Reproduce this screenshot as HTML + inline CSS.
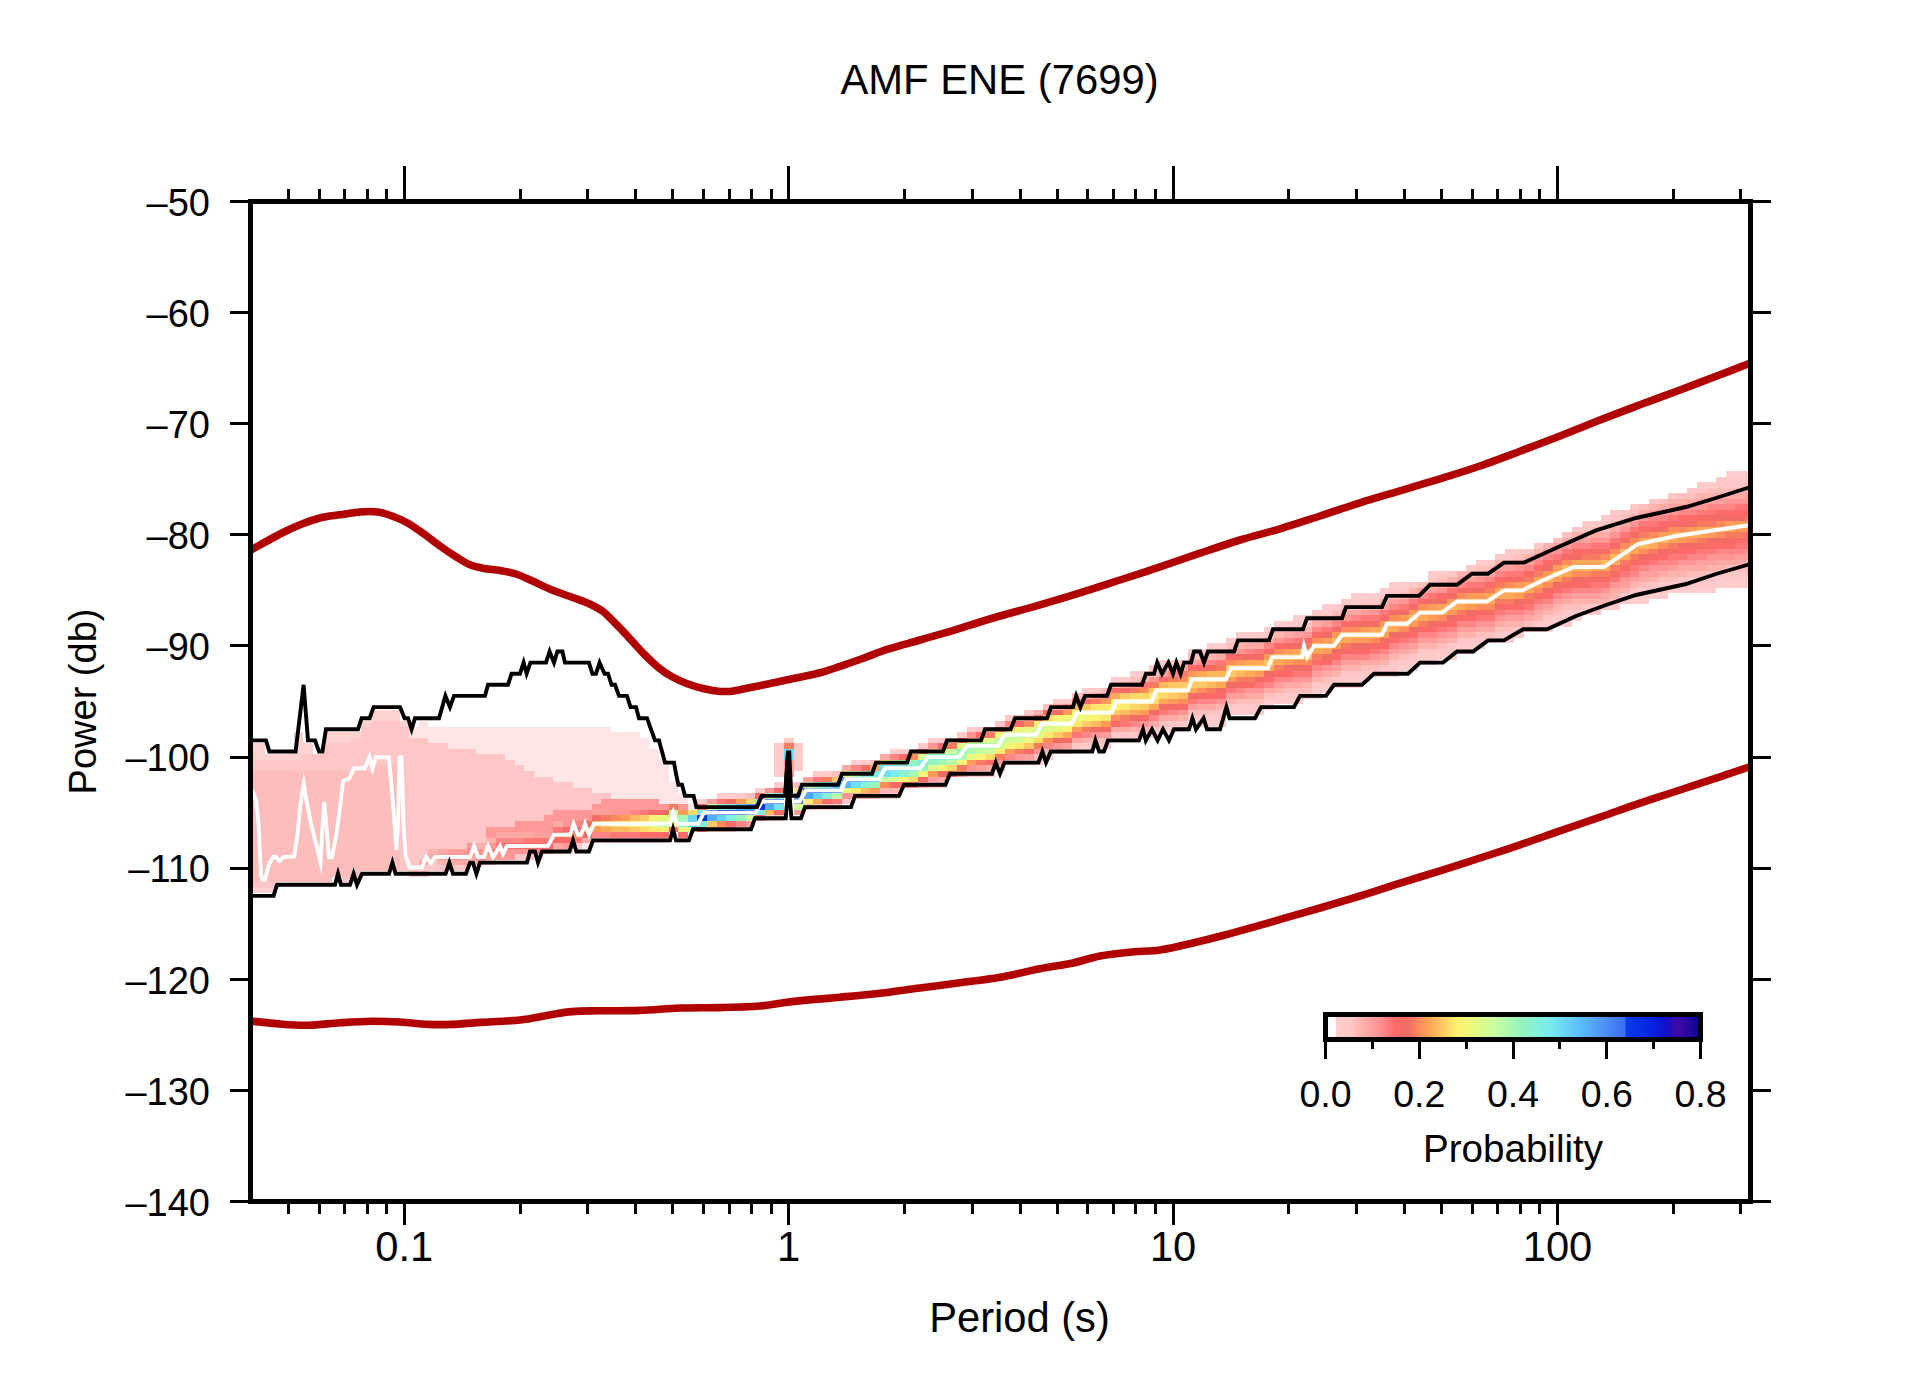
<!DOCTYPE html>
<html lang="en"><head><meta charset="utf-8"><title>AMF ENE (7699)</title>
<style>html,body{margin:0;padding:0;background:#fff;}body{width:1910px;height:1389px;overflow:hidden;}svg{display:block;}text{font-family:'Liberation Sans', sans-serif;fill:#000;}</style></head><body>
<svg width="1910" height="1389" viewBox="0 0 1910 1389">
<rect x="0" y="0" width="1910" height="1389" fill="#fff"/>
<defs><clipPath id="pc"><rect x="250.5" y="201.5" width="1500" height="1000"/></clipPath>
<linearGradient id="cb" x1="0" y1="0" x2="1" y2="0">
<stop offset="0.0" stop-color="#ffffff"/>
<stop offset="0.026" stop-color="#ffffff"/>
<stop offset="0.028" stop-color="#ffcece"/>
<stop offset="0.069" stop-color="#ffc6c6"/>
<stop offset="0.095" stop-color="#ffb2ac"/>
<stop offset="0.14" stop-color="#ff9696"/>
<stop offset="0.185" stop-color="#ff6a6a"/>
<stop offset="0.22" stop-color="#f06c64"/>
<stop offset="0.25" stop-color="#ff8c5a"/>
<stop offset="0.28" stop-color="#ffa858"/>
<stop offset="0.31" stop-color="#ffc664"/>
<stop offset="0.35" stop-color="#fff06e"/>
<stop offset="0.4" stop-color="#e4fa82"/>
<stop offset="0.45" stop-color="#c8ffa0"/>
<stop offset="0.52" stop-color="#96f5bc"/>
<stop offset="0.6" stop-color="#78ebf0"/>
<stop offset="0.68" stop-color="#5abefa"/>
<stop offset="0.765" stop-color="#4682f5"/>
<stop offset="0.799" stop-color="#3c6ef5"/>
<stop offset="0.801" stop-color="#0a3ceb"/>
<stop offset="0.87" stop-color="#0523e1"/>
<stop offset="0.91" stop-color="#140fc8"/>
<stop offset="0.94" stop-color="#410aa5"/>
<stop offset="0.967" stop-color="#2808a0"/>
<stop offset="1.0" stop-color="#050596"/>
</linearGradient></defs>
<g clip-path="url(#pc)" shape-rendering="crispEdges">
<path fill="#072de5" d="M755.1 804.3H764.7V809.8H755.1zM774.3 798.7H783.9V804.3H774.3z"/>
<path fill="#0832e7" d="M697.4 815.4H707V820.9H697.4zM716.6 809.8H726.2V815.4H716.6zM726.2 809.8H735.8V815.4H726.2zM735.8 809.8H745.5V815.4H735.8zM764.7 798.7H774.3V804.3H764.7z"/>
<path fill="#3d6ff5" d="M707 809.8H716.6V815.4H707zM745.5 809.8H755.1V815.4H745.5zM793.5 798.7H803.1V804.3H793.5zM812.7 787.6H822.3V793.2H812.7z"/>
<path fill="#4178f5" d="M803.1 787.6H812.7V793.2H803.1zM822.3 787.6H831.9V793.2H822.3z"/>
<path fill="#4a8df6" d="M831.9 787.6H841.6V793.2H831.9z"/>
<path fill="#4d98f7" d="M793.5 793.2H803.1V798.7H793.5zM851.2 776.5H860.8V782.1H851.2z"/>
<path fill="#51a3f8" d="M745.5 804.3H755.1V809.8H745.5zM803.1 793.2H812.7V798.7H803.1zM841.6 776.5H851.2V782.1H841.6z"/>
<path fill="#55aef9" d="M707 815.4H716.6V820.9H707zM764.7 804.3H774.3V809.8H764.7zM860.8 776.5H870.4V782.1H860.8z"/>
<path fill="#58b9fa" d="M841.6 782.1H851.2V787.6H841.6z"/>
<path fill="#5dc3f9" d="M687.8 820.9H697.4V826.5H687.8zM735.8 804.3H745.5V809.8H735.8zM831.9 782.1H841.6V787.6H831.9zM870.4 776.5H880V782.1H870.4z"/>
<path fill="#69d4f5" d="M687.8 815.4H697.4V820.9H687.8zM716.6 815.4H726.2V820.9H716.6zM812.7 793.2H822.3V798.7H812.7z"/>
<path fill="#6fddf3" d="M851.2 782.1H860.8V787.6H851.2zM880 765.4H889.6V776.5H880zM889.6 765.4H899.2V770.9H889.6zM899.2 765.4H908.8V770.9H899.2zM783.9 748.7H793.5V759.8H783.9z"/>
<path fill="#74e6f1" d="M755.1 798.7H764.7V804.3H755.1zM774.3 804.3H783.9V809.8H774.3z"/>
<path fill="#7aecec" d="M697.4 809.8H707V815.4H697.4zM726.2 804.3H735.8V809.8H726.2zM822.3 782.1H831.9V787.6H822.3zM870.4 770.9H880V776.5H870.4zM889.6 770.9H899.2V776.5H889.6zM908.8 765.4H918.4V770.9H908.8zM918.4 759.8H928V765.4H918.4z"/>
<path fill="#80eee2" d="M697.4 820.9H707V826.5H697.4zM726.2 815.4H735.8V820.9H726.2zM755.1 809.8H764.7V815.4H755.1zM774.3 793.2H783.9V798.7H774.3z"/>
<path fill="#86f0d8" d="M678.2 820.9H687.8V826.5H678.2zM822.3 793.2H831.9V798.7H822.3zM860.8 782.1H870.4V787.6H860.8zM928 754.3H937.7V759.8H928z"/>
<path fill="#8cf2cd" d="M860.8 770.9H870.4V776.5H860.8zM899.2 770.9H908.8V776.5H899.2zM937.7 754.3H947.3V759.8H937.7z"/>
<path fill="#92f4c3" d="M716.6 804.3H726.2V809.8H716.6zM918.4 765.4H928V770.9H918.4zM928 759.8H937.7V765.4H928zM947.3 754.3H956.9V759.8H947.3z"/>
<path fill="#99f6ba" d="M735.8 815.4H745.5V820.9H735.8zM812.7 782.1H822.3V787.6H812.7zM870.4 782.1H880V787.6H870.4zM908.8 759.8H918.4V765.4H908.8zM956.9 748.7H966.5V754.3H956.9z"/>
<path fill="#a4f8b4" d="M668.6 815.4H678.2V820.9H668.6zM678.2 815.4H687.8V820.9H678.2zM908.8 770.9H918.4V776.5H908.8zM937.7 759.8H947.3V765.4H937.7zM966.5 743.2H976.1V748.7H966.5zM976.1 743.2H985.7V748.7H976.1z"/>
<path fill="#affaae" d="M764.7 793.2H774.3V798.7H764.7zM956.9 754.3H966.5V759.8H956.9zM966.5 748.7H976.1V754.3H966.5zM985.7 743.2H995.3V748.7H985.7z"/>
<path fill="#bbfca8" d="M659 820.9H668.6V826.5H659zM831.9 793.2H841.6V798.7H831.9zM851.2 770.9H860.8V776.5H851.2zM899.2 759.8H908.8V765.4H899.2zM947.3 759.8H956.9V765.4H947.3zM995.3 737.6H1004.9V743.2H995.3z"/>
<path fill="#c6ffa1" d="M707 804.3H716.6V809.8H707zM880 776.5H889.6V782.1H880zM947.3 748.7H956.9V754.3H947.3zM976.1 748.7H985.7V754.3H976.1zM1004.9 732.1H1014.5V737.6H1004.9zM1014.5 732.1H1024.1V737.6H1014.5z"/>
<path fill="#cffe98" d="M668.6 809.8H678.2V815.4H668.6zM745.5 815.4H755.1V820.9H745.5zM793.5 804.3H803.1V809.8H793.5zM803.1 782.1H812.7V787.6H803.1zM918.4 754.3H928V759.8H918.4zM985.7 748.7H995.3V754.3H985.7zM995.3 743.2H1004.9V748.7H995.3zM1004.9 737.6H1014.5V743.2H1004.9zM1024.1 732.1H1033.8V737.6H1024.1zM1033.8 726.5H1043.4V732.1H1033.8z"/>
<path fill="#d8fc8f" d="M649.4 820.9H659V826.5H649.4zM889.6 759.8H899.2V765.4H889.6zM889.6 776.5H899.2V782.1H889.6zM928 765.4H937.7V770.9H928zM937.7 748.7H947.3V754.3H937.7zM985.7 737.6H995.3V743.2H985.7zM1014.5 737.6H1024.1V743.2H1014.5zM1043.4 720.9H1053V726.5H1043.4zM1053 720.9H1062.6V726.5H1053z"/>
<path fill="#e0fb86" d="M687.8 826.5H697.4V832.1H687.8zM956.9 743.2H966.5V748.7H956.9zM1033.8 732.1H1043.4V737.6H1033.8zM1043.4 726.5H1053V732.1H1043.4zM1062.6 720.9H1072.2V726.5H1062.6z"/>
<path fill="#e9f87e" d="M639.7 820.9H649.4V826.5H639.7zM659 815.4H668.6V820.9H659zM678.2 826.5H687.8V832.1H678.2zM841.6 770.9H851.2V776.5H841.6zM841.6 787.6H851.2V793.2H841.6zM966.5 754.3H976.1V759.8H966.5zM976.1 737.6H985.7V743.2H976.1zM1024.1 726.5H1033.8V732.1H1024.1zM1024.1 737.6H1033.8V743.2H1024.1zM1053 726.5H1062.6V732.1H1053zM1072.2 709.8H1081.8V720.9H1072.2zM1081.8 709.8H1091.4V715.4H1081.8z"/>
<path fill="#f16c64" d="M553.3 832.1H562.9V837.6H553.3zM572.5 826.5H582.1V832.1H572.5zM582.1 820.9H591.7V826.5H582.1zM582.1 832.1H591.7V837.6H582.1zM591.7 815.4H601.3V820.9H591.7zM659 809.8H668.6V815.4H659zM697.4 804.3H707V809.8H697.4zM726.2 798.7H735.8V804.3H726.2zM755.1 793.2H764.7V798.7H755.1zM774.3 809.8H783.9V815.4H774.3zM822.3 798.7H831.9V804.3H822.3zM860.8 765.4H870.4V770.9H860.8zM889.6 782.1H899.2V787.6H889.6zM918.4 776.5H928V782.1H918.4zM937.7 770.9H947.3V776.5H937.7zM1033.8 715.4H1043.4V720.9H1033.8zM1053 709.8H1062.6V715.4H1053zM1053 737.6H1062.6V743.2H1053zM1091.4 726.5H1101V732.1H1091.4zM1129.9 715.4H1139.5V720.9H1129.9zM1149.1 709.8H1158.7V715.4H1149.1zM1158.7 704.3H1168.3V709.8H1158.7zM1187.5 693.2H1197.1V698.7H1187.5zM1206.7 665.4H1216.3V670.9H1206.7zM1216.3 687.6H1226V693.2H1216.3zM1226 682.1H1235.6V687.6H1226zM1254.8 654.3H1264.4V659.8H1254.8zM1254.8 676.5H1264.4V682.1H1254.8zM1264.4 670.9H1274V676.5H1264.4zM1283.6 665.4H1293.2V670.9H1283.6zM1293.2 643.2H1302.8V648.7H1293.2zM1293.2 665.4H1302.8V670.9H1293.2zM1322.1 632.1H1331.7V637.6H1322.1zM1322.1 654.3H1331.7V659.8H1322.1zM1331.7 648.7H1341.3V654.3H1331.7zM1350.9 643.2H1360.5V648.7H1350.9zM1360.5 620.9H1370.1V626.5H1360.5zM1360.5 643.2H1370.1V648.7H1360.5zM1370.1 620.9H1379.7V626.5H1370.1zM1379.7 637.6H1389.3V643.2H1379.7zM1389.3 632.1H1398.9V637.6H1389.3zM1398.9 609.8H1408.5V615.4H1398.9zM1398.9 632.1H1408.5V637.6H1398.9zM1408.5 626.5H1418.2V632.1H1408.5zM1427.8 598.7H1437.4V604.3H1427.8zM1427.8 620.9H1437.4V626.5H1427.8zM1437.4 598.7H1447V604.3H1437.4zM1447 593.2H1456.6V598.7H1447zM1447 615.4H1456.6V620.9H1447zM1466.2 609.8H1475.8V615.4H1466.2zM1475.8 587.6H1485.4V593.2H1475.8zM1514.3 598.7H1523.9V604.3H1514.3zM1543.1 565.4H1552.7V570.9H1543.1zM1543.1 587.6H1552.7V593.2H1543.1zM1552.7 559.8H1562.3V565.4H1552.7zM1552.7 582.1H1562.3V587.6H1552.7zM1571.9 554.3H1581.5V559.8H1571.9zM1571.9 576.5H1581.5V582.1H1571.9zM1639.2 554.3H1648.8V559.8H1639.2zM1658.4 526.5H1668V532.1H1658.4zM1658.4 548.7H1668V554.3H1658.4zM1677.6 520.9H1687.2V526.5H1677.6zM1677.6 543.2H1687.2V548.7H1677.6zM1687.2 520.9H1696.8V526.5H1687.2zM1706.5 537.6H1716.1V543.2H1706.5zM1716.1 537.6H1725.7V543.2H1716.1zM1725.7 515.4H1735.3V520.9H1725.7zM1735.3 515.4H1744.9V520.9H1735.3zM1744.9 532.1H1754.5V537.6H1744.9z"/>
<path fill="#f1f578" d="M668.6 820.9H678.2V826.5H668.6zM899.2 776.5H908.8V782.1H899.2zM918.4 770.9H928V776.5H918.4zM937.7 765.4H947.3V770.9H937.7zM995.3 732.1H1004.9V737.6H995.3zM1004.9 743.2H1014.5V748.7H1004.9zM1014.5 726.5H1024.1V732.1H1014.5zM1062.6 715.4H1072.2V720.9H1062.6zM1081.8 715.4H1091.4V720.9H1081.8zM1091.4 709.8H1101V715.4H1091.4zM1101 709.8H1110.6V715.4H1101z"/>
<path fill="#f76b67" d="M543.6 843.2H553.3V848.7H543.6zM562.9 826.5H572.5V832.1H562.9zM697.4 826.5H707V832.1H697.4zM726.2 820.9H735.8V826.5H726.2zM755.1 815.4H764.7V820.9H755.1zM774.3 787.6H783.9V793.2H774.3zM899.2 754.3H908.8V759.8H899.2zM899.2 782.1H908.8V787.6H899.2zM985.7 759.8H995.3V765.4H985.7zM995.3 726.5H1004.9V732.1H995.3zM1014.5 720.9H1024.1V726.5H1014.5zM1024.1 748.7H1033.8V754.3H1024.1zM1062.6 737.6H1072.2V743.2H1062.6zM1081.8 698.7H1091.4V704.3H1081.8zM1101 726.5H1110.6V732.1H1101zM1120.2 687.6H1129.9V693.2H1120.2zM1139.5 715.4H1149.1V720.9H1139.5zM1158.7 676.5H1168.3V682.1H1158.7zM1168.3 704.3H1177.9V709.8H1168.3zM1197.1 665.4H1206.7V670.9H1197.1zM1197.1 693.2H1206.7V698.7H1197.1zM1235.6 654.3H1245.2V659.8H1235.6zM1235.6 682.1H1245.2V687.6H1235.6zM1245.2 654.3H1254.8V659.8H1245.2zM1264.4 648.7H1274V654.3H1264.4zM1274 670.9H1283.6V676.5H1274zM1283.6 643.2H1293.2V648.7H1283.6zM1302.8 665.4H1312.4V670.9H1302.8zM1312.4 632.1H1322.1V637.6H1312.4zM1331.7 626.5H1341.3V632.1H1331.7zM1341.3 648.7H1350.9V654.3H1341.3zM1350.9 620.9H1360.5V626.5H1350.9zM1370.1 643.2H1379.7V648.7H1370.1zM1379.7 615.4H1389.3V620.9H1379.7zM1389.3 609.8H1398.9V615.4H1389.3zM1408.5 604.3H1418.2V609.8H1408.5zM1418.2 598.7H1427.8V604.3H1418.2zM1437.4 620.9H1447V626.5H1437.4zM1456.6 587.6H1466.2V593.2H1456.6zM1466.2 587.6H1475.8V593.2H1466.2zM1475.8 609.8H1485.4V615.4H1475.8zM1485.4 609.8H1495V615.4H1485.4zM1495 604.3H1504.6V609.8H1495zM1504.6 576.5H1514.3V582.1H1504.6zM1514.3 576.5H1523.9V582.1H1514.3zM1523.9 570.9H1533.5V576.5H1523.9zM1523.9 598.7H1533.5V604.3H1523.9zM1533.5 593.2H1543.1V598.7H1533.5zM1562.3 554.3H1571.9V559.8H1562.3zM1562.3 582.1H1571.9V587.6H1562.3zM1581.5 576.5H1591.1V582.1H1581.5zM1591.1 548.7H1600.7V554.3H1591.1zM1591.1 576.5H1600.7V582.1H1591.1zM1600.7 548.7H1610.4V554.3H1600.7zM1600.7 576.5H1610.4V582.1H1600.7zM1610.4 543.2H1620V548.7H1610.4zM1610.4 570.9H1620V576.5H1610.4zM1620 537.6H1629.6V543.2H1620zM1620 565.4H1629.6V570.9H1620zM1629.6 532.1H1639.2V537.6H1629.6zM1629.6 559.8H1639.2V565.4H1629.6zM1648.8 526.5H1658.4V532.1H1648.8zM1648.8 554.3H1658.4V559.8H1648.8zM1668 520.9H1677.6V526.5H1668zM1668 548.7H1677.6V554.3H1668zM1687.2 543.2H1696.8V548.7H1687.2zM1696.8 515.4H1706.5V520.9H1696.8zM1696.8 543.2H1706.5V548.7H1696.8zM1706.5 515.4H1716.1V520.9H1706.5zM1716.1 515.4H1725.7V520.9H1716.1zM1725.7 537.6H1735.3V543.2H1725.7zM1744.9 509.8H1754.5V515.4H1744.9z"/>
<path fill="#f77b5f" d="M562.9 832.1H572.5V837.6H562.9zM601.3 815.4H610.9V820.9H601.3zM668.6 804.3H678.2V809.8H668.6zM822.3 776.5H831.9V782.1H822.3zM947.3 743.2H956.9V748.7H947.3zM956.9 765.4H966.5V770.9H956.9zM976.1 759.8H985.7V765.4H976.1zM985.7 732.1H995.3V737.6H985.7zM995.3 754.3H1004.9V759.8H995.3zM1014.5 748.7H1024.1V754.3H1014.5zM1033.8 743.2H1043.4V748.7H1033.8zM1081.8 726.5H1091.4V732.1H1081.8zM1091.4 698.7H1101V704.3H1091.4zM1120.2 715.4H1129.9V720.9H1120.2zM1129.9 687.6H1139.5V693.2H1129.9zM1149.1 682.1H1158.7V687.6H1149.1zM1168.3 676.5H1177.9V682.1H1168.3zM1206.7 687.6H1216.3V693.2H1206.7zM1216.3 665.4H1226V670.9H1216.3zM1235.6 676.5H1245.2V682.1H1235.6zM1245.2 676.5H1254.8V682.1H1245.2zM1274 665.4H1283.6V670.9H1274zM1302.8 643.2H1312.4V648.7H1302.8zM1312.4 654.3H1322.1V659.8H1312.4zM1341.3 643.2H1350.9V648.7H1341.3zM1418.2 620.9H1427.8V626.5H1418.2zM1456.6 609.8H1466.2V615.4H1456.6zM1485.4 587.6H1495V593.2H1485.4zM1495 582.1H1504.6V587.6H1495zM1495 598.7H1504.6V604.3H1495zM1504.6 598.7H1514.3V604.3H1504.6zM1523.9 576.5H1533.5V582.1H1523.9zM1523.9 593.2H1533.5V598.7H1523.9zM1533.5 570.9H1543.1V576.5H1533.5zM1562.3 576.5H1571.9V582.1H1562.3zM1581.5 554.3H1591.1V559.8H1581.5zM1591.1 554.3H1600.7V559.8H1591.1zM1591.1 570.9H1600.7V576.5H1591.1zM1600.7 570.9H1610.4V576.5H1600.7zM1610.4 565.4H1620V570.9H1610.4zM1620 559.8H1629.6V565.4H1620zM1629.6 554.3H1639.2V559.8H1629.6zM1639.2 532.1H1648.8V537.6H1639.2zM1648.8 548.7H1658.4V554.3H1648.8zM1668 543.2H1677.6V548.7H1668zM1696.8 520.9H1706.5V526.5H1696.8zM1696.8 537.6H1706.5V543.2H1696.8zM1706.5 520.9H1716.1V526.5H1706.5zM1725.7 532.1H1735.3V537.6H1725.7zM1735.3 532.1H1744.9V537.6H1735.3zM1744.9 515.4H1754.5V520.9H1744.9z"/>
<path fill="#f97f5e" d="M783.9 743.2H793.5V748.7H783.9z"/>
<path fill="#faf272" d="M630.1 820.9H639.7V826.5H630.1zM649.4 815.4H659V820.9H649.4zM659 826.5H668.6V832.1H659zM803.1 798.7H812.7V804.3H803.1zM880 759.8H889.6V765.4H880zM928 748.7H937.7V754.3H928zM956.9 759.8H966.5V765.4H956.9zM976.1 754.3H985.7V759.8H976.1zM1033.8 720.9H1043.4V726.5H1033.8zM1053 715.4H1062.6V720.9H1053zM1062.6 726.5H1072.2V732.1H1062.6zM1091.4 715.4H1101V720.9H1091.4zM1110.6 698.7H1120.2V709.8H1110.6zM1120.2 698.7H1129.9V704.3H1120.2zM1129.9 698.7H1139.5V704.3H1129.9z"/>
<path fill="#fdbdbd" d="M245.7 770.9H255.3V882.1H245.7zM255.3 770.9H265V882.1H255.3zM265 770.9H274.6V882.1H265zM274.6 770.9H284.2V882.1H274.6zM284.2 770.9H293.8V882.1H284.2zM293.8 770.9H303.4V882.1H293.8zM303.4 770.9H313V882.1H303.4zM313 770.9H322.6V882.1H313zM322.6 770.9H332.2V882.1H322.6zM332.2 770.9H341.8V876.5H332.2zM341.8 770.9H351.4V876.5H341.8zM351.4 770.9H361.1V876.5H351.4zM361.1 770.9H370.7V870.9H361.1zM370.7 765.4H380.3V870.9H370.7zM380.3 765.4H389.9V870.9H380.3zM389.9 765.4H399.5V870.9H389.9z"/>
<path fill="#fe6a6a" d="M505.2 843.2H514.8V848.7H505.2zM514.8 843.2H524.4V848.7H514.8zM524.4 843.2H534V848.7H524.4zM534 843.2H543.6V848.7H534zM553.3 837.6H562.9V843.2H553.3zM562.9 837.6H572.5V843.2H562.9zM639.7 832.1H649.4V837.6H639.7zM649.4 809.8H659V815.4H649.4zM649.4 832.1H659V837.6H649.4zM659 832.1H668.6V837.6H659zM668.6 826.5H678.2V832.1H668.6zM678.2 832.1H687.8V837.6H678.2zM918.4 748.7H928V754.3H918.4zM937.7 743.2H947.3V748.7H937.7zM947.3 770.9H956.9V776.5H947.3zM956.9 737.6H966.5V743.2H956.9zM976.1 732.1H985.7V737.6H976.1zM1043.4 709.8H1053V715.4H1043.4zM1110.6 687.6H1120.2V693.2H1110.6zM1110.6 720.9H1120.2V726.5H1110.6zM1177.9 704.3H1187.5V709.8H1177.9zM1187.5 665.4H1197.1V670.9H1187.5zM1206.7 693.2H1216.3V698.7H1206.7zM1216.3 693.2H1226V698.7H1216.3zM1226 654.3H1235.6V659.8H1226zM1245.2 682.1H1254.8V687.6H1245.2zM1264.4 676.5H1274V682.1H1264.4zM1274 643.2H1283.6V648.7H1274zM1283.6 670.9H1293.2V676.5H1283.6zM1302.8 637.6H1312.4V643.2H1302.8zM1312.4 659.8H1322.1V665.4H1312.4zM1322.1 659.8H1331.7V665.4H1322.1zM1331.7 654.3H1341.3V659.8H1331.7zM1341.3 620.9H1350.9V626.5H1341.3zM1350.9 648.7H1360.5V654.3H1350.9zM1360.5 648.7H1370.1V654.3H1360.5zM1379.7 643.2H1389.3V648.7H1379.7zM1389.3 637.6H1398.9V643.2H1389.3zM1408.5 632.1H1418.2V637.6H1408.5zM1418.2 626.5H1427.8V632.1H1418.2zM1427.8 626.5H1437.4V632.1H1427.8zM1437.4 593.2H1447V598.7H1437.4zM1447 620.9H1456.6V626.5H1447zM1456.6 615.4H1466.2V620.9H1456.6zM1466.2 615.4H1475.8V620.9H1466.2zM1485.4 582.1H1495V587.6H1485.4zM1495 576.5H1504.6V582.1H1495zM1504.6 604.3H1514.3V609.8H1504.6zM1514.3 604.3H1523.9V609.8H1514.3zM1533.5 565.4H1543.1V570.9H1533.5zM1543.1 559.8H1552.7V565.4H1543.1zM1543.1 593.2H1552.7V598.7H1543.1zM1552.7 587.6H1562.3V593.2H1552.7zM1571.9 548.7H1581.5V554.3H1571.9zM1571.9 582.1H1581.5V587.6H1571.9zM1581.5 548.7H1591.1V554.3H1581.5zM1581.5 582.1H1591.1V587.6H1581.5zM1639.2 526.5H1648.8V532.1H1639.2zM1639.2 559.8H1648.8V565.4H1639.2zM1658.4 520.9H1668V526.5H1658.4zM1658.4 554.3H1668V559.8H1658.4zM1677.6 515.4H1687.2V520.9H1677.6zM1677.6 548.7H1687.2V554.3H1677.6zM1687.2 515.4H1696.8V520.9H1687.2zM1687.2 548.7H1696.8V554.3H1687.2zM1706.5 543.2H1716.1V548.7H1706.5zM1716.1 509.8H1725.7V515.4H1716.1zM1716.1 543.2H1725.7V548.7H1716.1zM1725.7 509.8H1735.3V515.4H1725.7zM1725.7 543.2H1735.3V548.7H1725.7zM1735.3 509.8H1744.9V515.4H1735.3zM1735.3 537.6H1744.9V543.2H1735.3zM1744.9 537.6H1754.5V543.2H1744.9z"/>
<path fill="#fec6c6" d="M245.7 754.3H255.3V770.9H245.7zM245.7 882.1H255.3V887.6H245.7zM255.3 759.8H265V770.9H255.3zM255.3 882.1H265V887.6H255.3zM265 759.8H274.6V770.9H265zM265 882.1H274.6V887.6H265zM274.6 759.8H284.2V770.9H274.6zM284.2 759.8H293.8V770.9H284.2zM293.8 759.8H303.4V770.9H293.8zM303.4 754.3H313V770.9H303.4zM313 754.3H322.6V770.9H313zM322.6 743.2H332.2V770.9H322.6zM332.2 743.2H341.8V770.9H332.2zM341.8 743.2H351.4V770.9H341.8zM341.8 876.5H351.4V882.1H341.8zM351.4 737.6H361.1V770.9H351.4zM351.4 876.5H361.1V882.1H351.4zM361.1 726.5H370.7V770.9H361.1zM370.7 720.9H380.3V765.4H370.7zM380.3 720.9H389.9V765.4H380.3zM389.9 720.9H399.5V765.4H389.9zM399.5 726.5H409.1V870.9H399.5zM409.1 737.6H418.7V870.9H409.1zM418.7 737.6H428.3V859.8H418.7zM418.7 865.4H428.3V870.9H418.7zM428.3 743.2H437.9V848.7H428.3zM428.3 859.8H437.9V870.9H428.3zM437.9 743.2H447.5V848.7H437.9zM437.9 865.4H447.5V870.9H437.9zM447.5 748.7H457.2V848.7H447.5zM447.5 865.4H457.2V870.9H447.5zM457.2 748.7H466.8V848.7H457.2zM457.2 865.4H466.8V870.9H457.2zM466.8 748.7H476.4V843.2H466.8zM476.4 754.3H486V843.2H476.4zM486 754.3H495.6V826.5H486zM495.6 754.3H505.2V826.5H495.6zM505.2 759.8H514.8V826.5H505.2zM514.8 765.4H524.4V820.9H514.8zM514.8 854.3H524.4V859.8H514.8zM524.4 770.9H534V820.9H524.4zM534 776.5H543.6V820.9H534zM543.6 776.5H553.3V815.4H543.6zM553.3 782.1H562.9V809.8H553.3zM562.9 782.1H572.5V809.8H562.9zM572.5 787.6H582.1V809.8H572.5zM572.5 843.2H582.1V848.7H572.5zM582.1 787.6H591.7V809.8H582.1zM591.7 793.2H601.3V804.3H591.7zM601.3 793.2H610.9V798.7H601.3z"/>
<path fill="#ff7777" d="M486 848.7H495.6V854.3H486zM495.6 843.2H505.2V848.7H495.6zM524.4 837.6H534V843.2H524.4zM534 837.6H543.6V843.2H534zM543.6 837.6H553.3V843.2H543.6zM553.3 826.5H562.9V832.1H553.3zM572.5 837.6H582.1V843.2H572.5zM610.9 832.1H620.5V837.6H610.9zM620.5 832.1H630.1V837.6H620.5zM630.1 832.1H639.7V837.6H630.1zM639.7 809.8H649.4V815.4H639.7zM716.6 798.7H726.2V804.3H716.6zM812.7 776.5H822.3V782.1H812.7zM831.9 798.7H841.6V804.3H831.9zM908.8 782.1H918.4V787.6H908.8zM1072.2 698.7H1081.8V704.3H1072.2zM1072.2 732.1H1081.8V737.6H1072.2zM1120.2 720.9H1129.9V726.5H1120.2zM1139.5 682.1H1149.1V687.6H1139.5zM1158.7 709.8H1168.3V715.4H1158.7zM1177.9 670.9H1187.5V676.5H1177.9zM1187.5 698.7H1197.1V704.3H1187.5zM1216.3 659.8H1226V665.4H1216.3zM1226 687.6H1235.6V693.2H1226zM1254.8 648.7H1264.4V654.3H1254.8zM1254.8 682.1H1264.4V687.6H1254.8zM1293.2 637.6H1302.8V643.2H1293.2zM1293.2 670.9H1302.8V676.5H1293.2zM1302.8 670.9H1312.4V676.5H1302.8zM1322.1 626.5H1331.7V632.1H1322.1zM1360.5 615.4H1370.1V620.9H1360.5zM1370.1 615.4H1379.7V620.9H1370.1zM1370.1 648.7H1379.7V654.3H1370.1zM1379.7 609.8H1389.3V615.4H1379.7zM1398.9 604.3H1408.5V609.8H1398.9zM1398.9 637.6H1408.5V643.2H1398.9zM1408.5 598.7H1418.2V604.3H1408.5zM1427.8 593.2H1437.4V598.7H1427.8zM1437.4 626.5H1447V632.1H1437.4zM1447 587.6H1456.6V593.2H1447zM1466.2 582.1H1475.8V587.6H1466.2zM1475.8 582.1H1485.4V587.6H1475.8zM1475.8 615.4H1485.4V620.9H1475.8zM1485.4 615.4H1495V620.9H1485.4zM1495 609.8H1504.6V615.4H1495zM1504.6 570.9H1514.3V576.5H1504.6zM1514.3 570.9H1523.9V576.5H1514.3zM1523.9 604.3H1533.5V609.8H1523.9zM1533.5 598.7H1543.1V604.3H1533.5zM1552.7 554.3H1562.3V559.8H1552.7zM1562.3 548.7H1571.9V554.3H1562.3zM1562.3 587.6H1571.9V593.2H1562.3zM1591.1 543.2H1600.7V548.7H1591.1zM1591.1 582.1H1600.7V587.6H1591.1zM1600.7 543.2H1610.4V548.7H1600.7zM1600.7 582.1H1610.4V587.6H1600.7zM1610.4 537.6H1620V543.2H1610.4zM1610.4 576.5H1620V582.1H1610.4zM1620 532.1H1629.6V537.6H1620zM1620 570.9H1629.6V576.5H1620zM1629.6 526.5H1639.2V532.1H1629.6zM1629.6 565.4H1639.2V570.9H1629.6zM1639.2 520.9H1648.8V526.5H1639.2zM1648.8 520.9H1658.4V526.5H1648.8zM1648.8 559.8H1658.4V565.4H1648.8zM1668 515.4H1677.6V520.9H1668zM1668 554.3H1677.6V559.8H1668zM1677.6 554.3H1687.2V559.8H1677.6zM1696.8 509.8H1706.5V515.4H1696.8zM1696.8 548.7H1706.5V554.3H1696.8zM1706.5 509.8H1716.1V515.4H1706.5zM1706.5 548.7H1716.1V554.3H1706.5zM1735.3 504.3H1744.9V509.8H1735.3zM1735.3 543.2H1744.9V548.7H1735.3zM1744.9 504.3H1754.5V509.8H1744.9zM1744.9 543.2H1754.5V548.7H1744.9z"/>
<path fill="#ff8686" d="M466.8 848.7H476.4V854.3H466.8zM476.4 854.3H486V859.8H476.4zM495.6 837.6H505.2V843.2H495.6zM505.2 837.6H514.8V843.2H505.2zM514.8 837.6H524.4V843.2H514.8zM534 848.7H543.6V854.3H534zM543.6 848.7H553.3V854.3H543.6zM572.5 820.9H582.1V826.5H572.5zM591.7 832.1H601.3V837.6H591.7zM601.3 832.1H610.9V837.6H601.3zM630.1 809.8H639.7V815.4H630.1zM735.8 820.9H745.5V826.5H735.8zM851.2 765.4H860.8V770.9H851.2zM889.6 754.3H899.2V759.8H889.6zM1004.9 720.9H1014.5V726.5H1004.9zM1004.9 754.3H1014.5V759.8H1004.9zM1043.4 743.2H1053V748.7H1043.4zM1081.8 732.1H1091.4V737.6H1081.8zM1101 693.2H1110.6V698.7H1101zM1129.9 720.9H1139.5V726.5H1129.9zM1149.1 715.4H1158.7V720.9H1149.1zM1168.3 670.9H1177.9V676.5H1168.3zM1168.3 709.8H1177.9V715.4H1168.3zM1197.1 698.7H1206.7V704.3H1197.1zM1206.7 659.8H1216.3V665.4H1206.7zM1206.7 698.7H1216.3V704.3H1206.7zM1235.6 687.6H1245.2V693.2H1235.6zM1245.2 648.7H1254.8V654.3H1245.2zM1264.4 643.2H1274V648.7H1264.4zM1264.4 682.1H1274V687.6H1264.4zM1274 676.5H1283.6V682.1H1274zM1283.6 637.6H1293.2V643.2H1283.6zM1283.6 676.5H1293.2V682.1H1283.6zM1312.4 626.5H1322.1V632.1H1312.4zM1312.4 665.4H1322.1V670.9H1312.4zM1331.7 620.9H1341.3V626.5H1331.7zM1331.7 659.8H1341.3V665.4H1331.7zM1341.3 654.3H1350.9V659.8H1341.3zM1350.9 615.4H1360.5V620.9H1350.9zM1350.9 654.3H1360.5V659.8H1350.9zM1360.5 654.3H1370.1V659.8H1360.5zM1379.7 648.7H1389.3V654.3H1379.7zM1389.3 604.3H1398.9V609.8H1389.3zM1389.3 643.2H1398.9V648.7H1389.3zM1408.5 637.6H1418.2V643.2H1408.5zM1418.2 593.2H1427.8V598.7H1418.2zM1418.2 632.1H1427.8V637.6H1418.2zM1427.8 632.1H1437.4V637.6H1427.8zM1447 626.5H1456.6V632.1H1447zM1456.6 582.1H1466.2V587.6H1456.6zM1456.6 620.9H1466.2V626.5H1456.6zM1466.2 620.9H1475.8V626.5H1466.2zM1485.4 576.5H1495V582.1H1485.4zM1495 570.9H1504.6V576.5H1495zM1504.6 609.8H1514.3V615.4H1504.6zM1514.3 609.8H1523.9V615.4H1514.3zM1523.9 565.4H1533.5V570.9H1523.9zM1533.5 559.8H1543.1V565.4H1533.5zM1543.1 554.3H1552.7V559.8H1543.1zM1543.1 598.7H1552.7V604.3H1543.1zM1552.7 593.2H1562.3V598.7H1552.7zM1571.9 543.2H1581.5V548.7H1571.9zM1571.9 587.6H1581.5V593.2H1571.9zM1581.5 543.2H1591.1V548.7H1581.5zM1581.5 587.6H1591.1V593.2H1581.5zM1591.1 587.6H1600.7V593.2H1591.1zM1629.6 570.9H1639.2V576.5H1629.6zM1639.2 565.4H1648.8V570.9H1639.2zM1648.8 515.4H1658.4V520.9H1648.8zM1658.4 515.4H1668V520.9H1658.4zM1658.4 559.8H1668V565.4H1658.4zM1668 559.8H1677.6V565.4H1668zM1677.6 509.8H1687.2V515.4H1677.6zM1687.2 509.8H1696.8V515.4H1687.2zM1687.2 554.3H1696.8V559.8H1687.2zM1696.8 554.3H1706.5V559.8H1696.8zM1706.5 504.3H1716.1V509.8H1706.5zM1716.1 504.3H1725.7V509.8H1716.1zM1716.1 548.7H1725.7V554.3H1716.1zM1725.7 504.3H1735.3V509.8H1725.7zM1725.7 548.7H1735.3V554.3H1725.7zM1735.3 548.7H1744.9V554.3H1735.3z"/>
<path fill="#ff8c5a" d="M572.5 832.1H582.1V837.6H572.5zM610.9 815.4H620.5V820.9H610.9zM716.6 820.9H726.2V826.5H716.6zM880 782.1H889.6V787.6H880zM908.8 754.3H918.4V759.8H908.8zM1024.1 720.9H1033.8V726.5H1024.1zM1043.4 737.6H1053V743.2H1043.4zM1110.6 715.4H1120.2V720.9H1110.6zM1139.5 687.6H1149.1V693.2H1139.5zM1177.9 676.5H1187.5V682.1H1177.9zM1177.9 698.7H1187.5V704.3H1177.9zM1197.1 687.6H1206.7V693.2H1197.1zM1226 659.8H1235.6V665.4H1226zM1274 648.7H1283.6V654.3H1274zM1293.2 659.8H1302.8V665.4H1293.2zM1302.8 659.8H1312.4V665.4H1302.8zM1312.4 637.6H1322.1V643.2H1312.4zM1341.3 626.5H1350.9V632.1H1341.3zM1350.9 626.5H1360.5V632.1H1350.9zM1370.1 637.6H1379.7V643.2H1370.1zM1389.3 615.4H1398.9V620.9H1389.3zM1398.9 626.5H1408.5V632.1H1398.9zM1418.2 604.3H1427.8V609.8H1418.2zM1437.4 615.4H1447V620.9H1437.4zM1456.6 593.2H1466.2V598.7H1456.6zM1475.8 604.3H1485.4V609.8H1475.8zM1485.4 604.3H1495V609.8H1485.4zM1504.6 582.1H1514.3V587.6H1504.6zM1533.5 587.6H1543.1V593.2H1533.5zM1543.1 582.1H1552.7V587.6H1543.1zM1562.3 559.8H1571.9V565.4H1562.3zM1571.9 570.9H1581.5V576.5H1571.9zM1581.5 570.9H1591.1V576.5H1581.5zM1600.7 554.3H1610.4V559.8H1600.7zM1610.4 548.7H1620V554.3H1610.4zM1620 543.2H1629.6V548.7H1620zM1629.6 537.6H1639.2V543.2H1629.6zM1639.2 548.7H1648.8V554.3H1639.2zM1648.8 532.1H1658.4V537.6H1648.8zM1658.4 543.2H1668V548.7H1658.4zM1668 526.5H1677.6V532.1H1668zM1677.6 526.5H1687.2V532.1H1677.6zM1687.2 537.6H1696.8V543.2H1687.2zM1716.1 520.9H1725.7V526.5H1716.1zM1716.1 532.1H1725.7V537.6H1716.1z"/>
<path fill="#ff9595" d="M447.5 854.3H457.2V859.8H447.5zM457.2 854.3H466.8V859.8H457.2zM466.8 843.2H476.4V848.7H466.8zM476.4 848.7H486V854.3H476.4zM486 843.2H495.6V848.7H486zM495.6 848.7H505.2V854.3H495.6zM505.2 848.7H514.8V854.3H505.2zM514.8 848.7H524.4V854.3H514.8zM524.4 848.7H534V854.3H524.4zM562.9 820.9H572.5V826.5H562.9zM582.1 815.4H591.7V820.9H582.1zM610.9 809.8H620.5V815.4H610.9zM620.5 809.8H630.1V815.4H620.5zM764.7 787.6H774.3V793.2H764.7zM841.6 793.2H851.2V798.7H841.6zM928 743.2H937.7V748.7H928zM966.5 732.1H976.1V737.6H966.5zM966.5 765.4H976.1V770.9H966.5zM995.3 759.8H1004.9V765.4H995.3zM1014.5 754.3H1024.1V759.8H1014.5zM1033.8 748.7H1043.4V754.3H1033.8zM1053 743.2H1062.6V748.7H1053zM1062.6 704.3H1072.2V709.8H1062.6zM1091.4 732.1H1101V737.6H1091.4zM1129.9 682.1H1139.5V687.6H1129.9zM1139.5 720.9H1149.1V726.5H1139.5zM1149.1 676.5H1158.7V682.1H1149.1zM1177.9 709.8H1187.5V715.4H1177.9zM1197.1 659.8H1206.7V665.4H1197.1zM1216.3 698.7H1226V704.3H1216.3zM1235.6 648.7H1245.2V654.3H1235.6zM1245.2 687.6H1254.8V693.2H1245.2zM1254.8 687.6H1264.4V693.2H1254.8zM1274 637.6H1283.6V643.2H1274zM1293.2 676.5H1302.8V682.1H1293.2zM1302.8 632.1H1312.4V637.6H1302.8zM1302.8 676.5H1312.4V682.1H1302.8zM1322.1 665.4H1331.7V670.9H1322.1zM1341.3 615.4H1350.9V620.9H1341.3zM1370.1 609.8H1379.7V615.4H1370.1zM1370.1 654.3H1379.7V659.8H1370.1zM1398.9 598.7H1408.5V604.3H1398.9zM1398.9 643.2H1408.5V648.7H1398.9zM1437.4 587.6H1447V593.2H1437.4zM1437.4 632.1H1447V637.6H1437.4zM1447 582.1H1456.6V587.6H1447zM1475.8 576.5H1485.4V582.1H1475.8zM1475.8 620.9H1485.4V626.5H1475.8zM1485.4 620.9H1495V626.5H1485.4zM1495 615.4H1504.6V620.9H1495zM1514.3 565.4H1523.9V570.9H1514.3zM1523.9 609.8H1533.5V615.4H1523.9zM1533.5 604.3H1543.1V609.8H1533.5zM1552.7 548.7H1562.3V554.3H1552.7zM1562.3 543.2H1571.9V548.7H1562.3zM1562.3 593.2H1571.9V598.7H1562.3zM1591.1 537.6H1600.7V543.2H1591.1zM1600.7 537.6H1610.4V543.2H1600.7zM1600.7 587.6H1610.4V593.2H1600.7zM1610.4 532.1H1620V537.6H1610.4zM1610.4 582.1H1620V587.6H1610.4zM1620 526.5H1629.6V532.1H1620zM1620 576.5H1629.6V582.1H1620zM1629.6 520.9H1639.2V526.5H1629.6zM1639.2 515.4H1648.8V520.9H1639.2zM1648.8 565.4H1658.4V570.9H1648.8zM1658.4 509.8H1668V515.4H1658.4zM1658.4 565.4H1668V570.9H1658.4zM1668 509.8H1677.6V515.4H1668zM1677.6 559.8H1687.2V565.4H1677.6zM1687.2 504.3H1696.8V509.8H1687.2zM1687.2 559.8H1696.8V565.4H1687.2zM1696.8 504.3H1706.5V509.8H1696.8zM1706.5 554.3H1716.1V559.8H1706.5zM1716.1 554.3H1725.7V559.8H1716.1zM1725.7 498.7H1735.3V504.3H1725.7zM1725.7 554.3H1735.3V559.8H1725.7zM1735.3 498.7H1744.9V504.3H1735.3zM1744.9 498.7H1754.5V504.3H1744.9zM1744.9 548.7H1754.5V554.3H1744.9z"/>
<path fill="#ff9897" d="M486 826.5H495.6V837.6H486zM495.6 826.5H505.2V832.1H495.6zM495.6 854.3H505.2V859.8H495.6zM505.2 826.5H514.8V832.1H505.2zM505.2 854.3H514.8V859.8H505.2zM514.8 820.9H524.4V832.1H514.8zM524.4 820.9H534V832.1H524.4zM534 820.9H543.6V832.1H534zM543.6 815.4H553.3V832.1H543.6zM553.3 809.8H562.9V820.9H553.3zM562.9 809.8H572.5V820.9H562.9zM562.9 843.2H572.5V848.7H562.9zM572.5 809.8H582.1V820.9H572.5zM582.1 809.8H591.7V815.4H582.1zM591.7 804.3H601.3V809.8H591.7zM601.3 798.7H610.9V809.8H601.3zM610.9 798.7H620.5V809.8H610.9zM620.5 798.7H630.1V809.8H620.5zM630.1 798.7H639.7V809.8H630.1zM639.7 798.7H649.4V809.8H639.7zM649.4 798.7H659V809.8H649.4zM659 804.3H668.6V809.8H659zM678.2 804.3H687.8V809.8H678.2z"/>
<path fill="#ff9b59" d="M582.1 826.5H591.7V832.1H582.1zM591.7 826.5H601.3V832.1H591.7zM620.5 815.4H630.1V820.9H620.5zM678.2 809.8H687.8V815.4H678.2zM735.8 798.7H745.5V804.3H735.8zM870.4 787.6H880V793.2H870.4zM928 770.9H937.7V776.5H928zM966.5 759.8H976.1V765.4H966.5zM1004.9 748.7H1014.5V754.3H1004.9zM1062.6 709.8H1072.2V715.4H1062.6zM1072.2 726.5H1081.8V732.1H1072.2zM1101 698.7H1110.6V704.3H1101zM1101 720.9H1110.6V726.5H1101zM1139.5 709.8H1149.1V715.4H1139.5zM1168.3 698.7H1177.9V704.3H1168.3zM1187.5 670.9H1197.1V676.5H1187.5zM1226 676.5H1235.6V682.1H1226zM1235.6 659.8H1245.2V665.4H1235.6zM1254.8 670.9H1264.4V676.5H1254.8zM1264.4 654.3H1274V659.8H1264.4zM1283.6 648.7H1293.2V654.3H1283.6zM1283.6 659.8H1293.2V665.4H1283.6zM1322.1 637.6H1331.7V643.2H1322.1zM1322.1 648.7H1331.7V654.3H1322.1zM1331.7 632.1H1341.3V637.6H1331.7zM1331.7 643.2H1341.3V648.7H1331.7zM1350.9 637.6H1360.5V643.2H1350.9zM1360.5 626.5H1370.1V632.1H1360.5zM1360.5 637.6H1370.1V643.2H1360.5zM1379.7 620.9H1389.3V626.5H1379.7zM1379.7 632.1H1389.3V637.6H1379.7zM1398.9 615.4H1408.5V620.9H1398.9zM1408.5 609.8H1418.2V615.4H1408.5zM1408.5 620.9H1418.2V626.5H1408.5zM1427.8 604.3H1437.4V609.8H1427.8zM1427.8 615.4H1437.4V620.9H1427.8zM1447 598.7H1456.6V604.3H1447zM1447 609.8H1456.6V615.4H1447zM1466.2 593.2H1475.8V598.7H1466.2zM1466.2 604.3H1475.8V609.8H1466.2zM1475.8 593.2H1485.4V598.7H1475.8zM1514.3 582.1H1523.9V587.6H1514.3zM1514.3 593.2H1523.9V598.7H1514.3zM1543.1 570.9H1552.7V576.5H1543.1zM1552.7 565.4H1562.3V570.9H1552.7zM1552.7 576.5H1562.3V582.1H1552.7zM1658.4 532.1H1668V537.6H1658.4zM1677.6 537.6H1687.2V543.2H1677.6zM1687.2 526.5H1696.8V532.1H1687.2zM1706.5 532.1H1716.1V537.6H1706.5zM1725.7 520.9H1735.3V526.5H1725.7zM1735.3 520.9H1744.9V532.1H1735.3zM1744.9 520.9H1754.5V532.1H1744.9z"/>
<path fill="#ff9f9d" d="M437.9 854.3H447.5V859.8H437.9zM447.5 848.7H457.2V854.3H447.5zM457.2 848.7H466.8V854.3H457.2zM466.8 854.3H476.4V859.8H466.8zM476.4 859.8H486V865.4H476.4zM486 854.3H495.6V859.8H486zM534 832.1H543.6V837.6H534zM543.6 832.1H553.3V837.6H543.6zM591.7 809.8H601.3V815.4H591.7zM601.3 809.8H610.9V815.4H601.3zM707 798.7H716.6V804.3H707zM745.5 820.9H755.1V826.5H745.5zM793.5 809.8H803.1V815.4H793.5zM803.1 776.5H812.7V782.1H803.1zM928 776.5H937.7V782.1H928zM956.9 770.9H966.5V776.5H956.9zM976.1 765.4H985.7V770.9H976.1zM1024.1 754.3H1033.8V759.8H1024.1zM1062.6 743.2H1072.2V748.7H1062.6zM1091.4 693.2H1101V698.7H1091.4zM1101 732.1H1110.6V737.6H1101zM1120.2 682.1H1129.9V687.6H1120.2zM1158.7 670.9H1168.3V676.5H1158.7zM1187.5 659.8H1197.1V665.4H1187.5zM1187.5 704.3H1197.1V709.8H1187.5zM1226 648.7H1235.6V654.3H1226zM1226 693.2H1235.6V698.7H1226zM1235.6 693.2H1245.2V698.7H1235.6zM1274 682.1H1283.6V687.6H1274zM1293.2 632.1H1302.8V637.6H1293.2zM1312.4 670.9H1322.1V676.5H1312.4zM1322.1 620.9H1331.7V626.5H1322.1zM1331.7 665.4H1341.3V670.9H1331.7zM1341.3 659.8H1350.9V665.4H1341.3zM1350.9 659.8H1360.5V665.4H1350.9zM1360.5 609.8H1370.1V615.4H1360.5zM1379.7 604.3H1389.3V609.8H1379.7zM1379.7 654.3H1389.3V659.8H1379.7zM1389.3 598.7H1398.9V604.3H1389.3zM1389.3 648.7H1398.9V654.3H1389.3zM1408.5 593.2H1418.2V598.7H1408.5zM1408.5 643.2H1418.2V648.7H1408.5zM1418.2 587.6H1427.8V593.2H1418.2zM1418.2 637.6H1427.8V643.2H1418.2zM1427.8 587.6H1437.4V593.2H1427.8zM1427.8 637.6H1437.4V643.2H1427.8zM1447 632.1H1456.6V637.6H1447zM1456.6 576.5H1466.2V582.1H1456.6zM1456.6 626.5H1466.2V632.1H1456.6zM1466.2 576.5H1475.8V582.1H1466.2zM1466.2 626.5H1475.8V632.1H1466.2zM1495 565.4H1504.6V570.9H1495zM1504.6 565.4H1514.3V570.9H1504.6zM1504.6 615.4H1514.3V620.9H1504.6zM1514.3 615.4H1523.9V620.9H1514.3zM1523.9 559.8H1533.5V565.4H1523.9zM1533.5 554.3H1543.1V559.8H1533.5zM1543.1 548.7H1552.7V554.3H1543.1zM1543.1 604.3H1552.7V609.8H1543.1zM1552.7 598.7H1562.3V604.3H1552.7zM1571.9 537.6H1581.5V543.2H1571.9zM1571.9 593.2H1581.5V598.7H1571.9zM1581.5 537.6H1591.1V543.2H1581.5zM1581.5 593.2H1591.1V598.7H1581.5zM1591.1 593.2H1600.7V598.7H1591.1zM1620 582.1H1629.6V587.6H1620zM1629.6 576.5H1639.2V582.1H1629.6zM1639.2 570.9H1648.8V576.5H1639.2zM1648.8 509.8H1658.4V515.4H1648.8zM1648.8 570.9H1658.4V576.5H1648.8zM1668 504.3H1677.6V509.8H1668zM1668 565.4H1677.6V570.9H1668zM1677.6 504.3H1687.2V509.8H1677.6zM1696.8 559.8H1706.5V565.4H1696.8zM1706.5 498.7H1716.1V504.3H1706.5zM1706.5 559.8H1716.1V565.4H1706.5zM1716.1 498.7H1725.7V504.3H1716.1zM1735.3 554.3H1744.9V559.8H1735.3zM1744.9 493.2H1754.5V498.7H1744.9zM1744.9 554.3H1754.5V559.8H1744.9zM783.9 759.8H793.5V776.5H783.9z"/>
<path fill="#ffa958" d="M591.7 820.9H601.3V826.5H591.7zM601.3 826.5H610.9V832.1H601.3zM812.7 798.7H822.3V804.3H812.7zM870.4 765.4H880V770.9H870.4zM1062.6 732.1H1072.2V737.6H1062.6zM1110.6 693.2H1120.2V698.7H1110.6zM1129.9 709.8H1139.5V715.4H1129.9zM1149.1 704.3H1158.7V709.8H1149.1zM1158.7 698.7H1168.3V704.3H1158.7zM1187.5 687.6H1197.1V693.2H1187.5zM1197.1 670.9H1206.7V676.5H1197.1zM1216.3 682.1H1226V687.6H1216.3zM1245.2 659.8H1254.8V665.4H1245.2zM1245.2 670.9H1254.8V676.5H1245.2zM1254.8 659.8H1264.4V665.4H1254.8zM1264.4 665.4H1274V670.9H1264.4zM1274 659.8H1283.6V665.4H1274zM1293.2 648.7H1302.8V654.3H1293.2zM1312.4 648.7H1322.1V654.3H1312.4zM1341.3 637.6H1350.9V643.2H1341.3zM1370.1 626.5H1379.7V632.1H1370.1zM1389.3 626.5H1398.9V632.1H1389.3zM1418.2 615.4H1427.8V620.9H1418.2zM1437.4 604.3H1447V609.8H1437.4zM1456.6 604.3H1466.2V609.8H1456.6zM1485.4 593.2H1495V604.3H1485.4zM1495 587.6H1504.6V598.7H1495zM1504.6 593.2H1514.3V598.7H1504.6zM1523.9 582.1H1533.5V593.2H1523.9zM1533.5 576.5H1543.1V587.6H1533.5zM1562.3 570.9H1571.9V576.5H1562.3zM1571.9 559.8H1581.5V565.4H1571.9zM1581.5 559.8H1591.1V565.4H1581.5zM1591.1 559.8H1600.7V570.9H1591.1zM1600.7 565.4H1610.4V570.9H1600.7zM1610.4 559.8H1620V565.4H1610.4zM1620 554.3H1629.6V559.8H1620zM1629.6 543.2H1639.2V554.3H1629.6zM1639.2 537.6H1648.8V543.2H1639.2zM1648.8 543.2H1658.4V548.7H1648.8zM1668 532.1H1677.6V543.2H1668zM1677.6 532.1H1687.2V537.6H1677.6zM1687.2 532.1H1696.8V537.6H1687.2zM1696.8 526.5H1706.5V537.6H1696.8zM1706.5 526.5H1716.1V532.1H1706.5zM1716.1 526.5H1725.7V532.1H1716.1zM1725.7 526.5H1735.3V532.1H1725.7z"/>
<path fill="#ffa9a5" d="M418.7 859.8H428.3V865.4H418.7zM428.3 854.3H437.9V859.8H428.3zM437.9 848.7H447.5V854.3H437.9zM447.5 859.8H457.2V865.4H447.5zM457.2 859.8H466.8V865.4H457.2zM495.6 832.1H505.2V837.6H495.6zM505.2 832.1H514.8V837.6H505.2zM514.8 832.1H524.4V837.6H514.8zM524.4 832.1H534V837.6H524.4zM553.3 820.9H562.9V826.5H553.3zM553.3 843.2H562.9V848.7H553.3zM582.1 837.6H591.7V843.2H582.1zM841.6 765.4H851.2V770.9H841.6zM851.2 793.2H860.8V798.7H851.2zM860.8 793.2H870.4V798.7H860.8zM870.4 793.2H880V798.7H870.4zM880 754.3H889.6V759.8H880zM937.7 776.5H947.3V782.1H937.7zM985.7 765.4H995.3V770.9H985.7zM1024.1 715.4H1033.8V720.9H1024.1zM1053 704.3H1062.6V709.8H1053zM1072.2 737.6H1081.8V743.2H1072.2zM1110.6 726.5H1120.2V732.1H1110.6zM1120.2 726.5H1129.9V732.1H1120.2zM1149.1 720.9H1158.7V726.5H1149.1zM1158.7 715.4H1168.3V720.9H1158.7zM1168.3 715.4H1177.9V720.9H1168.3zM1177.9 665.4H1187.5V670.9H1177.9zM1197.1 704.3H1206.7V709.8H1197.1zM1206.7 704.3H1216.3V709.8H1206.7zM1216.3 654.3H1226V659.8H1216.3zM1245.2 643.2H1254.8V648.7H1245.2zM1245.2 693.2H1254.8V698.7H1245.2zM1254.8 643.2H1264.4V648.7H1254.8zM1254.8 693.2H1264.4V698.7H1254.8zM1264.4 637.6H1274V643.2H1264.4zM1264.4 687.6H1274V693.2H1264.4zM1283.6 632.1H1293.2V637.6H1283.6zM1283.6 682.1H1293.2V687.6H1283.6zM1293.2 682.1H1302.8V687.6H1293.2zM1312.4 620.9H1322.1V626.5H1312.4zM1322.1 670.9H1331.7V676.5H1322.1zM1331.7 615.4H1341.3V620.9H1331.7zM1341.3 609.8H1350.9V615.4H1341.3zM1350.9 609.8H1360.5V615.4H1350.9zM1360.5 659.8H1370.1V665.4H1360.5zM1370.1 659.8H1379.7V665.4H1370.1zM1398.9 648.7H1408.5V654.3H1398.9zM1437.4 582.1H1447V587.6H1437.4zM1437.4 637.6H1447V643.2H1437.4zM1475.8 570.9H1485.4V576.5H1475.8zM1475.8 626.5H1485.4V632.1H1475.8zM1485.4 570.9H1495V576.5H1485.4zM1485.4 626.5H1495V632.1H1485.4zM1495 620.9H1504.6V626.5H1495zM1514.3 559.8H1523.9V565.4H1514.3zM1523.9 615.4H1533.5V620.9H1523.9zM1533.5 609.8H1543.1V615.4H1533.5zM1552.7 543.2H1562.3V548.7H1552.7zM1562.3 537.6H1571.9V543.2H1562.3zM1562.3 598.7H1571.9V604.3H1562.3zM1591.1 532.1H1600.7V537.6H1591.1zM1600.7 532.1H1610.4V537.6H1600.7zM1600.7 593.2H1610.4V598.7H1600.7zM1610.4 526.5H1620V532.1H1610.4zM1610.4 587.6H1620V593.2H1610.4zM1620 520.9H1629.6V526.5H1620zM1629.6 515.4H1639.2V520.9H1629.6zM1639.2 509.8H1648.8V515.4H1639.2zM1639.2 576.5H1648.8V582.1H1639.2zM1658.4 504.3H1668V509.8H1658.4zM1658.4 570.9H1668V576.5H1658.4zM1677.6 565.4H1687.2V570.9H1677.6zM1687.2 498.7H1696.8V504.3H1687.2zM1687.2 565.4H1696.8V570.9H1687.2zM1696.8 498.7H1706.5V504.3H1696.8zM1696.8 565.4H1706.5V570.9H1696.8zM1716.1 493.2H1725.7V498.7H1716.1zM1716.1 559.8H1725.7V565.4H1716.1zM1725.7 493.2H1735.3V498.7H1725.7zM1725.7 559.8H1735.3V565.4H1725.7zM1735.3 493.2H1744.9V498.7H1735.3zM1735.3 559.8H1744.9V565.4H1735.3z"/>
<path fill="#ffb3ad" d="M428.3 848.7H437.9V854.3H428.3zM437.9 859.8H447.5V865.4H437.9zM476.4 843.2H486V848.7H476.4zM486 837.6H495.6V843.2H486zM803.1 804.3H812.7V809.8H803.1zM880 787.6H889.6V793.2H880zM889.6 787.6H899.2V793.2H889.6zM918.4 782.1H928V787.6H918.4zM985.7 726.5H995.3V732.1H985.7zM1033.8 709.8H1043.4V715.4H1033.8zM1043.4 748.7H1053V754.3H1043.4zM1081.8 693.2H1091.4V698.7H1081.8zM1081.8 737.6H1091.4V743.2H1081.8zM1110.6 682.1H1120.2V687.6H1110.6zM1129.9 726.5H1139.5V732.1H1129.9zM1139.5 676.5H1149.1V682.1H1139.5zM1139.5 726.5H1149.1V732.1H1139.5zM1168.3 665.4H1177.9V670.9H1168.3zM1177.9 715.4H1187.5V720.9H1177.9zM1206.7 654.3H1216.3V659.8H1206.7zM1216.3 704.3H1226V709.8H1216.3zM1226 698.7H1235.6V704.3H1226zM1235.6 643.2H1245.2V648.7H1235.6zM1274 632.1H1283.6V637.6H1274zM1274 687.6H1283.6V693.2H1274zM1302.8 626.5H1312.4V632.1H1302.8zM1302.8 682.1H1312.4V687.6H1302.8zM1312.4 676.5H1322.1V682.1H1312.4zM1331.7 670.9H1341.3V676.5H1331.7zM1341.3 665.4H1350.9V670.9H1341.3zM1350.9 665.4H1360.5V670.9H1350.9zM1360.5 604.3H1370.1V609.8H1360.5zM1370.1 604.3H1379.7V609.8H1370.1zM1379.7 598.7H1389.3V604.3H1379.7zM1379.7 659.8H1389.3V665.4H1379.7zM1389.3 654.3H1398.9V659.8H1389.3zM1398.9 593.2H1408.5V598.7H1398.9zM1408.5 587.6H1418.2V593.2H1408.5zM1408.5 648.7H1418.2V654.3H1408.5zM1418.2 643.2H1427.8V648.7H1418.2zM1427.8 582.1H1437.4V587.6H1427.8zM1427.8 643.2H1437.4V648.7H1427.8zM1447 576.5H1456.6V582.1H1447zM1447 637.6H1456.6V643.2H1447zM1456.6 570.9H1466.2V576.5H1456.6zM1456.6 632.1H1466.2V637.6H1456.6zM1466.2 570.9H1475.8V576.5H1466.2zM1466.2 632.1H1475.8V637.6H1466.2zM1495 559.8H1504.6V565.4H1495zM1504.6 559.8H1514.3V565.4H1504.6zM1504.6 620.9H1514.3V626.5H1504.6zM1514.3 620.9H1523.9V626.5H1514.3zM1523.9 554.3H1533.5V559.8H1523.9zM1533.5 548.7H1543.1V554.3H1533.5zM1533.5 615.4H1543.1V620.9H1533.5zM1543.1 543.2H1552.7V548.7H1543.1zM1543.1 609.8H1552.7V615.4H1543.1zM1552.7 604.3H1562.3V609.8H1552.7zM1571.9 532.1H1581.5V537.6H1571.9zM1571.9 598.7H1581.5V604.3H1571.9zM1581.5 532.1H1591.1V537.6H1581.5zM1581.5 598.7H1591.1V604.3H1581.5zM1591.1 598.7H1600.7V604.3H1591.1zM1600.7 598.7H1610.4V604.3H1600.7zM1610.4 593.2H1620V598.7H1610.4zM1620 587.6H1629.6V593.2H1620zM1629.6 582.1H1639.2V587.6H1629.6zM1648.8 504.3H1658.4V509.8H1648.8zM1648.8 576.5H1658.4V582.1H1648.8zM1668 498.7H1677.6V504.3H1668zM1668 570.9H1677.6V576.5H1668zM1677.6 498.7H1687.2V504.3H1677.6zM1677.6 570.9H1687.2V576.5H1677.6zM1696.8 493.2H1706.5V498.7H1696.8zM1706.5 493.2H1716.1V498.7H1706.5zM1706.5 565.4H1716.1V570.9H1706.5zM1716.1 565.4H1725.7V570.9H1716.1zM1735.3 487.6H1744.9V493.2H1735.3zM1744.9 487.6H1754.5V493.2H1744.9zM1744.9 559.8H1754.5V565.4H1744.9z"/>
<path fill="#ffb95f" d="M610.9 826.5H620.5V832.1H610.9zM620.5 826.5H630.1V832.1H620.5zM630.1 815.4H639.7V820.9H630.1zM764.7 809.8H774.3V815.4H764.7zM860.8 787.6H870.4V793.2H860.8zM1072.2 704.3H1081.8V709.8H1072.2zM1091.4 720.9H1101V726.5H1091.4zM1120.2 709.8H1129.9V715.4H1120.2zM1158.7 682.1H1168.3V687.6H1158.7zM1177.9 693.2H1187.5V698.7H1177.9zM1206.7 670.9H1216.3V676.5H1206.7zM1206.7 682.1H1216.3V687.6H1206.7zM1216.3 670.9H1226V676.5H1216.3zM1235.6 670.9H1245.2V676.5H1235.6zM1274 654.3H1283.6V659.8H1274zM1283.6 654.3H1293.2V659.8H1283.6zM1293.2 654.3H1302.8V659.8H1293.2zM1302.8 648.7H1312.4V659.8H1302.8zM1312.4 643.2H1322.1V648.7H1312.4zM1322.1 643.2H1331.7V648.7H1322.1zM1331.7 637.6H1341.3V643.2H1331.7zM1341.3 632.1H1350.9V637.6H1341.3zM1350.9 632.1H1360.5V637.6H1350.9zM1360.5 632.1H1370.1V637.6H1360.5zM1370.1 632.1H1379.7V637.6H1370.1zM1379.7 626.5H1389.3V632.1H1379.7zM1389.3 620.9H1398.9V626.5H1389.3zM1398.9 620.9H1408.5V626.5H1398.9zM1408.5 615.4H1418.2V620.9H1408.5zM1418.2 609.8H1427.8V615.4H1418.2zM1427.8 609.8H1437.4V615.4H1427.8zM1437.4 609.8H1447V615.4H1437.4zM1447 604.3H1456.6V609.8H1447zM1456.6 598.7H1466.2V604.3H1456.6zM1466.2 598.7H1475.8V604.3H1466.2zM1475.8 598.7H1485.4V604.3H1475.8zM1504.6 587.6H1514.3V593.2H1504.6zM1514.3 587.6H1523.9V593.2H1514.3zM1543.1 576.5H1552.7V582.1H1543.1zM1552.7 570.9H1562.3V576.5H1552.7zM1562.3 565.4H1571.9V570.9H1562.3zM1571.9 565.4H1581.5V570.9H1571.9zM1581.5 565.4H1591.1V570.9H1581.5zM1600.7 559.8H1610.4V565.4H1600.7zM1610.4 554.3H1620V559.8H1610.4zM1620 548.7H1629.6V554.3H1620zM1639.2 543.2H1648.8V548.7H1639.2zM1648.8 537.6H1658.4V543.2H1648.8zM1658.4 537.6H1668V543.2H1658.4z"/>
<path fill="#ffbfbd" d="M745.5 793.2H755.1V798.7H745.5zM793.5 782.1H803.1V787.6H793.5zM831.9 770.9H841.6V776.5H831.9zM870.4 759.8H880V765.4H870.4zM947.3 737.6H956.9V743.2H947.3zM1004.9 759.8H1014.5V765.4H1004.9zM1014.5 715.4H1024.1V720.9H1014.5zM1014.5 759.8H1024.1V765.4H1014.5zM1033.8 754.3H1043.4V759.8H1033.8zM1043.4 704.3H1053V709.8H1043.4zM1053 748.7H1062.6V754.3H1053zM1072.2 693.2H1081.8V698.7H1072.2zM1091.4 737.6H1101V743.2H1091.4zM1101 687.6H1110.6V693.2H1101zM1101 737.6H1110.6V743.2H1101zM1129.9 676.5H1139.5V682.1H1129.9zM1149.1 670.9H1158.7V676.5H1149.1zM1158.7 665.4H1168.3V670.9H1158.7zM1158.7 720.9H1168.3V726.5H1158.7zM1187.5 654.3H1197.1V659.8H1187.5zM1187.5 709.8H1197.1V715.4H1187.5zM1197.1 654.3H1206.7V659.8H1197.1zM1197.1 709.8H1206.7V715.4H1197.1zM1206.7 709.8H1216.3V715.4H1206.7zM1226 643.2H1235.6V648.7H1226zM1235.6 698.7H1245.2V704.3H1235.6zM1245.2 698.7H1254.8V704.3H1245.2zM1254.8 637.6H1264.4V643.2H1254.8zM1254.8 698.7H1264.4V704.3H1254.8zM1264.4 693.2H1274V698.7H1264.4zM1283.6 626.5H1293.2V632.1H1283.6zM1283.6 687.6H1293.2V693.2H1283.6zM1293.2 626.5H1302.8V632.1H1293.2zM1293.2 687.6H1302.8V693.2H1293.2zM1302.8 687.6H1312.4V693.2H1302.8zM1312.4 615.4H1322.1V620.9H1312.4zM1322.1 615.4H1331.7V620.9H1322.1zM1322.1 676.5H1331.7V682.1H1322.1zM1331.7 609.8H1341.3V615.4H1331.7zM1341.3 604.3H1350.9V609.8H1341.3zM1350.9 604.3H1360.5V609.8H1350.9zM1360.5 665.4H1370.1V670.9H1360.5zM1370.1 665.4H1379.7V670.9H1370.1zM1389.3 593.2H1398.9V598.7H1389.3zM1398.9 654.3H1408.5V659.8H1398.9zM1418.2 582.1H1427.8V587.6H1418.2zM1437.4 576.5H1447V582.1H1437.4zM1437.4 643.2H1447V648.7H1437.4zM1475.8 565.4H1485.4V570.9H1475.8zM1475.8 632.1H1485.4V637.6H1475.8zM1485.4 565.4H1495V570.9H1485.4zM1485.4 632.1H1495V637.6H1485.4zM1495 626.5H1504.6V632.1H1495zM1504.6 626.5H1514.3V632.1H1504.6zM1514.3 554.3H1523.9V559.8H1514.3zM1523.9 620.9H1533.5V626.5H1523.9zM1552.7 537.6H1562.3V543.2H1552.7zM1552.7 609.8H1562.3V615.4H1552.7zM1562.3 532.1H1571.9V537.6H1562.3zM1562.3 604.3H1571.9V609.8H1562.3zM1571.9 604.3H1581.5V609.8H1571.9zM1591.1 526.5H1600.7V532.1H1591.1zM1600.7 526.5H1610.4V532.1H1600.7zM1610.4 520.9H1620V526.5H1610.4zM1620 515.4H1629.6V520.9H1620zM1629.6 509.8H1639.2V515.4H1629.6zM1639.2 504.3H1648.8V509.8H1639.2zM1639.2 582.1H1648.8V587.6H1639.2zM1658.4 498.7H1668V504.3H1658.4zM1658.4 576.5H1668V582.1H1658.4zM1668 576.5H1677.6V582.1H1668zM1677.6 493.2H1687.2V498.7H1677.6zM1687.2 493.2H1696.8V498.7H1687.2zM1687.2 570.9H1696.8V576.5H1687.2zM1696.8 570.9H1706.5V576.5H1696.8zM1706.5 487.6H1716.1V493.2H1706.5zM1706.5 570.9H1716.1V576.5H1706.5zM1716.1 487.6H1725.7V493.2H1716.1zM1725.7 487.6H1735.3V493.2H1725.7zM1725.7 565.4H1735.3V570.9H1725.7zM1735.3 565.4H1744.9V570.9H1735.3zM1744.9 482.1H1754.5V487.6H1744.9zM1744.9 565.4H1754.5V570.9H1744.9z"/>
<path fill="#ffc7c7" d="M466.8 859.8H476.4V865.4H466.8zM486 859.8H495.6V865.4H486zM524.4 854.3H534V859.8H524.4zM591.7 837.6H601.3V843.2H591.7zM601.3 837.6H610.9V843.2H601.3zM610.9 837.6H620.5V843.2H610.9zM620.5 837.6H630.1V843.2H620.5zM630.1 837.6H639.7V843.2H630.1zM639.7 837.6H649.4V843.2H639.7zM649.4 837.6H659V843.2H649.4zM659 837.6H668.6V843.2H659zM707 826.5H716.6V832.1H707zM764.7 815.4H774.3V820.9H764.7zM812.7 804.3H822.3V809.8H812.7zM908.8 748.7H918.4V754.3H908.8zM966.5 770.9H976.1V776.5H966.5zM976.1 726.5H985.7V732.1H976.1zM976.1 770.9H985.7V776.5H976.1zM995.3 720.9H1004.9V726.5H995.3zM995.3 765.4H1004.9V770.9H995.3zM1024.1 759.8H1033.8V765.4H1024.1zM1062.6 748.7H1072.2V754.3H1062.6zM1072.2 743.2H1081.8V748.7H1072.2zM1110.6 732.1H1120.2V737.6H1110.6zM1120.2 732.1H1129.9V737.6H1120.2zM1129.9 732.1H1139.5V737.6H1129.9zM1149.1 726.5H1158.7V732.1H1149.1zM1168.3 720.9H1177.9V726.5H1168.3zM1177.9 659.8H1187.5V665.4H1177.9zM1177.9 720.9H1187.5V726.5H1177.9zM1206.7 648.7H1216.3V654.3H1206.7zM1216.3 648.7H1226V654.3H1216.3zM1216.3 709.8H1226V715.4H1216.3zM1226 704.3H1235.6V709.8H1226zM1245.2 637.6H1254.8V643.2H1245.2zM1264.4 632.1H1274V637.6H1264.4zM1274 626.5H1283.6V632.1H1274zM1274 693.2H1283.6V698.7H1274zM1283.6 693.2H1293.2V698.7H1283.6zM1302.8 620.9H1312.4V626.5H1302.8zM1312.4 682.1H1322.1V687.6H1312.4zM1322.1 682.1H1331.7V687.6H1322.1zM1331.7 676.5H1341.3V682.1H1331.7zM1341.3 670.9H1350.9V676.5H1341.3zM1350.9 670.9H1360.5V676.5H1350.9zM1360.5 598.7H1370.1V604.3H1360.5zM1360.5 670.9H1370.1V676.5H1360.5zM1370.1 598.7H1379.7V604.3H1370.1zM1370.1 670.9H1379.7V676.5H1370.1zM1379.7 593.2H1389.3V598.7H1379.7zM1379.7 665.4H1389.3V670.9H1379.7zM1389.3 659.8H1398.9V665.4H1389.3zM1398.9 587.6H1408.5V593.2H1398.9zM1398.9 659.8H1408.5V665.4H1398.9zM1408.5 582.1H1418.2V587.6H1408.5zM1408.5 654.3H1418.2V659.8H1408.5zM1418.2 648.7H1427.8V654.3H1418.2zM1427.8 576.5H1437.4V582.1H1427.8zM1427.8 648.7H1437.4V654.3H1427.8zM1437.4 648.7H1447V654.3H1437.4zM1447 570.9H1456.6V576.5H1447zM1447 643.2H1456.6V648.7H1447zM1456.6 637.6H1466.2V643.2H1456.6zM1466.2 565.4H1475.8V570.9H1466.2zM1466.2 637.6H1475.8V643.2H1466.2zM1475.8 637.6H1485.4V643.2H1475.8zM1485.4 637.6H1495V643.2H1485.4zM1495 554.3H1504.6V559.8H1495zM1504.6 554.3H1514.3V559.8H1504.6zM1514.3 626.5H1523.9V632.1H1514.3zM1523.9 548.7H1533.5V554.3H1523.9zM1523.9 626.5H1533.5V632.1H1523.9zM1533.5 543.2H1543.1V548.7H1533.5zM1533.5 620.9H1543.1V626.5H1533.5zM1543.1 615.4H1552.7V620.9H1543.1zM1562.3 609.8H1571.9V615.4H1562.3zM1571.9 526.5H1581.5V532.1H1571.9zM1581.5 526.5H1591.1V532.1H1581.5zM1581.5 604.3H1591.1V609.8H1581.5zM1591.1 604.3H1600.7V609.8H1591.1zM1600.7 520.9H1610.4V526.5H1600.7zM1600.7 604.3H1610.4V609.8H1600.7zM1610.4 515.4H1620V520.9H1610.4zM1610.4 598.7H1620V604.3H1610.4zM1620 509.8H1629.6V515.4H1620zM1620 593.2H1629.6V598.7H1620zM1629.6 504.3H1639.2V509.8H1629.6zM1629.6 587.6H1639.2V593.2H1629.6zM1639.2 587.6H1648.8V593.2H1639.2zM1648.8 498.7H1658.4V504.3H1648.8zM1648.8 582.1H1658.4V587.6H1648.8zM1658.4 582.1H1668V587.6H1658.4zM1668 493.2H1677.6V498.7H1668zM1677.6 576.5H1687.2V582.1H1677.6zM1687.2 487.6H1696.8V493.2H1687.2zM1687.2 576.5H1696.8V582.1H1687.2zM1696.8 487.6H1706.5V493.2H1696.8zM1696.8 576.5H1706.5V582.1H1696.8zM1706.5 576.5H1716.1V582.1H1706.5zM1716.1 482.1H1725.7V487.6H1716.1zM1716.1 570.9H1725.7V576.5H1716.1zM1725.7 482.1H1735.3V487.6H1725.7zM1725.7 570.9H1735.3V576.5H1725.7zM1735.3 482.1H1744.9V487.6H1735.3zM1735.3 570.9H1744.9V576.5H1735.3zM1744.9 570.9H1754.5V576.5H1744.9z"/>
<path fill="#ffc965" d="M601.3 820.9H610.9V826.5H601.3zM630.1 826.5H639.7V832.1H630.1zM639.7 815.4H649.4V820.9H639.7zM707 820.9H716.6V826.5H707zM831.9 776.5H841.6V782.1H831.9zM1024.1 743.2H1033.8V748.7H1024.1zM1053 732.1H1062.6V737.6H1053zM1081.8 704.3H1091.4V709.8H1081.8zM1081.8 720.9H1091.4V726.5H1081.8zM1110.6 709.8H1120.2V715.4H1110.6zM1120.2 693.2H1129.9V698.7H1120.2zM1139.5 704.3H1149.1V709.8H1139.5zM1149.1 687.6H1158.7V693.2H1149.1zM1168.3 682.1H1177.9V687.6H1168.3zM1168.3 693.2H1177.9V698.7H1168.3zM1177.9 682.1H1187.5V687.6H1177.9zM1187.5 682.1H1197.1V687.6H1187.5zM1197.1 682.1H1206.7V687.6H1197.1zM1216.3 676.5H1226V682.1H1216.3zM1226 665.4H1235.6V676.5H1226zM1235.6 665.4H1245.2V670.9H1235.6zM1245.2 665.4H1254.8V670.9H1245.2zM1254.8 665.4H1264.4V670.9H1254.8zM1264.4 659.8H1274V665.4H1264.4z"/>
<path fill="#ffcaca" d="M409.1 870.9H418.7V876.5H409.1zM678.2 837.6H687.8V843.2H678.2zM716.6 826.5H726.2V832.1H716.6zM735.8 793.2H745.5V798.7H735.8zM774.3 815.4H783.9V820.9H774.3zM783.9 782.1H793.5V787.6H783.9zM822.3 770.9H831.9V776.5H822.3zM822.3 804.3H831.9V809.8H822.3zM860.8 759.8H870.4V765.4H860.8zM899.2 748.7H908.8V754.3H899.2zM918.4 743.2H928V748.7H918.4zM928 782.1H937.7V787.6H928zM937.7 737.6H947.3V743.2H937.7zM937.7 782.1H947.3V787.6H937.7zM956.9 732.1H966.5V737.6H956.9zM985.7 770.9H995.3V776.5H985.7zM1004.9 715.4H1014.5V720.9H1004.9zM1043.4 754.3H1053V759.8H1043.4zM1062.6 698.7H1072.2V704.3H1062.6zM1081.8 743.2H1091.4V748.7H1081.8zM1091.4 687.6H1101V693.2H1091.4zM1091.4 743.2H1101V748.7H1091.4zM1120.2 676.5H1129.9V682.1H1120.2zM1139.5 670.9H1149.1V676.5H1139.5zM1139.5 732.1H1149.1V737.6H1139.5zM1158.7 726.5H1168.3V732.1H1158.7zM1168.3 659.8H1177.9V665.4H1168.3zM1187.5 715.4H1197.1V720.9H1187.5zM1197.1 648.7H1206.7V654.3H1197.1zM1197.1 715.4H1206.7V720.9H1197.1zM1206.7 715.4H1216.3V720.9H1206.7zM1216.3 715.4H1226V720.9H1216.3zM1226 637.6H1235.6V643.2H1226zM1235.6 637.6H1245.2V643.2H1235.6zM1235.6 704.3H1245.2V709.8H1235.6zM1245.2 704.3H1254.8V709.8H1245.2zM1254.8 632.1H1264.4V637.6H1254.8zM1254.8 704.3H1264.4V709.8H1254.8zM1264.4 698.7H1274V704.3H1264.4zM1274 698.7H1283.6V704.3H1274zM1283.6 620.9H1293.2V626.5H1283.6zM1293.2 620.9H1302.8V626.5H1293.2zM1293.2 693.2H1302.8V698.7H1293.2zM1302.8 693.2H1312.4V698.7H1302.8zM1312.4 609.8H1322.1V615.4H1312.4zM1312.4 687.6H1322.1V693.2H1312.4zM1322.1 609.8H1331.7V615.4H1322.1zM1331.7 604.3H1341.3V609.8H1331.7zM1331.7 682.1H1341.3V687.6H1331.7zM1341.3 598.7H1350.9V604.3H1341.3zM1341.3 676.5H1350.9V682.1H1341.3zM1350.9 598.7H1360.5V604.3H1350.9zM1350.9 676.5H1360.5V682.1H1350.9zM1379.7 670.9H1389.3V676.5H1379.7zM1389.3 587.6H1398.9V593.2H1389.3zM1389.3 665.4H1398.9V670.9H1389.3zM1408.5 659.8H1418.2V665.4H1408.5zM1418.2 654.3H1427.8V659.8H1418.2zM1427.8 570.9H1437.4V576.5H1427.8zM1427.8 654.3H1437.4V659.8H1427.8zM1437.4 570.9H1447V576.5H1437.4zM1447 648.7H1456.6V654.3H1447zM1456.6 643.2H1466.2V648.7H1456.6zM1466.2 643.2H1475.8V648.7H1466.2zM1475.8 559.8H1485.4V565.4H1475.8zM1475.8 643.2H1485.4V648.7H1475.8zM1485.4 559.8H1495V565.4H1485.4zM1495 632.1H1504.6V637.6H1495zM1504.6 548.7H1514.3V554.3H1504.6zM1504.6 632.1H1514.3V637.6H1504.6zM1514.3 548.7H1523.9V554.3H1514.3zM1514.3 632.1H1523.9V637.6H1514.3zM1533.5 626.5H1543.1V632.1H1533.5zM1543.1 620.9H1552.7V626.5H1543.1zM1552.7 615.4H1562.3V620.9H1552.7zM1562.3 615.4H1571.9V620.9H1562.3zM1571.9 609.8H1581.5V615.4H1571.9zM1581.5 520.9H1591.1V526.5H1581.5zM1581.5 609.8H1591.1V615.4H1581.5zM1591.1 520.9H1600.7V526.5H1591.1zM1591.1 609.8H1600.7V615.4H1591.1zM1600.7 515.4H1610.4V520.9H1600.7zM1610.4 509.8H1620V515.4H1610.4zM1610.4 604.3H1620V609.8H1610.4zM1620 598.7H1629.6V604.3H1620zM1629.6 593.2H1639.2V598.7H1629.6zM1639.2 593.2H1648.8V598.7H1639.2zM1648.8 587.6H1658.4V593.2H1648.8zM1658.4 587.6H1668V593.2H1658.4zM1668 582.1H1677.6V587.6H1668zM1677.6 582.1H1687.2V587.6H1677.6zM1687.2 582.1H1696.8V587.6H1687.2zM1696.8 482.1H1706.5V487.6H1696.8zM1696.8 582.1H1706.5V587.6H1696.8zM1706.5 482.1H1716.1V487.6H1706.5zM1706.5 582.1H1716.1V587.6H1706.5zM1716.1 476.5H1725.7V482.1H1716.1zM1716.1 576.5H1725.7V582.1H1716.1zM1725.7 476.5H1735.3V482.1H1725.7zM1725.7 576.5H1735.3V582.1H1725.7zM1735.3 476.5H1744.9V482.1H1735.3zM1735.3 576.5H1744.9V582.1H1735.3zM1744.9 476.5H1754.5V482.1H1744.9zM1744.9 576.5H1754.5V582.1H1744.9zM774.3 743.2H783.9V776.5H774.3zM793.5 743.2H803.1V770.9H793.5zM783.9 737.6H793.5V743.2H783.9z"/>
<path fill="#ffcdcd" d="M418.7 870.9H428.3V876.5H418.7zM553.3 848.7H562.9V854.3H553.3zM562.9 848.7H572.5V854.3H562.9zM697.4 798.7H707V804.3H697.4zM716.6 793.2H726.2V798.7H716.6zM726.2 793.2H735.8V798.7H726.2zM726.2 826.5H735.8V832.1H726.2zM755.1 787.6H764.7V793.2H755.1zM774.3 782.1H783.9V787.6H774.3zM812.7 770.9H822.3V776.5H812.7zM831.9 804.3H841.6V809.8H831.9zM841.6 798.7H851.2V804.3H841.6zM851.2 759.8H860.8V765.4H851.2zM880 793.2H889.6V798.7H880zM889.6 748.7H899.2V754.3H889.6zM889.6 793.2H899.2V798.7H889.6zM928 737.6H937.7V743.2H928zM966.5 726.5H976.1V732.1H966.5zM1024.1 709.8H1033.8V715.4H1024.1zM1033.8 759.8H1043.4V765.4H1033.8zM1053 698.7H1062.6V704.3H1053zM1081.8 687.6H1091.4V693.2H1081.8zM1101 743.2H1110.6V748.7H1101zM1110.6 676.5H1120.2V682.1H1110.6zM1110.6 737.6H1120.2V743.2H1110.6zM1120.2 737.6H1129.9V743.2H1120.2zM1129.9 670.9H1139.5V676.5H1129.9zM1129.9 737.6H1139.5V743.2H1129.9zM1149.1 665.4H1158.7V670.9H1149.1zM1149.1 732.1H1158.7V737.6H1149.1zM1158.7 659.8H1168.3V665.4H1158.7zM1168.3 726.5H1177.9V732.1H1168.3zM1177.9 726.5H1187.5V732.1H1177.9zM1187.5 648.7H1197.1V654.3H1187.5zM1197.1 720.9H1206.7V726.5H1197.1zM1206.7 643.2H1216.3V648.7H1206.7zM1206.7 720.9H1216.3V726.5H1206.7zM1216.3 643.2H1226V648.7H1216.3zM1216.3 720.9H1226V726.5H1216.3zM1226 709.8H1235.6V715.4H1226zM1235.6 632.1H1245.2V637.6H1235.6zM1235.6 709.8H1245.2V715.4H1235.6zM1245.2 632.1H1254.8V637.6H1245.2zM1245.2 709.8H1254.8V715.4H1245.2zM1254.8 709.8H1264.4V715.4H1254.8zM1264.4 626.5H1274V632.1H1264.4zM1264.4 704.3H1274V709.8H1264.4zM1274 620.9H1283.6V626.5H1274zM1283.6 698.7H1293.2V704.3H1283.6zM1293.2 615.4H1302.8V620.9H1293.2zM1293.2 698.7H1302.8V704.3H1293.2zM1302.8 615.4H1312.4V620.9H1302.8zM1312.4 693.2H1322.1V698.7H1312.4zM1322.1 604.3H1331.7V609.8H1322.1zM1322.1 687.6H1331.7V693.2H1322.1zM1341.3 682.1H1350.9V687.6H1341.3zM1350.9 593.2H1360.5V598.7H1350.9zM1350.9 682.1H1360.5V687.6H1350.9zM1360.5 593.2H1370.1V598.7H1360.5zM1360.5 676.5H1370.1V682.1H1360.5zM1370.1 593.2H1379.7V598.7H1370.1zM1379.7 587.6H1389.3V593.2H1379.7zM1389.3 582.1H1398.9V587.6H1389.3zM1389.3 670.9H1398.9V676.5H1389.3zM1398.9 582.1H1408.5V587.6H1398.9zM1398.9 665.4H1408.5V670.9H1398.9zM1408.5 665.4H1418.2V670.9H1408.5zM1418.2 659.8H1427.8V665.4H1418.2zM1427.8 659.8H1437.4V665.4H1427.8zM1437.4 654.3H1447V659.8H1437.4zM1447 654.3H1456.6V659.8H1447zM1456.6 648.7H1466.2V654.3H1456.6zM1466.2 648.7H1475.8V654.3H1466.2zM1495 637.6H1504.6V643.2H1495zM1504.6 637.6H1514.3V643.2H1504.6zM1543.1 626.5H1552.7V632.1H1543.1zM1552.7 620.9H1562.3V626.5H1552.7zM1562.3 620.9H1571.9V626.5H1562.3zM1571.9 615.4H1581.5V620.9H1571.9zM1629.6 598.7H1639.2V604.3H1629.6zM1639.2 598.7H1648.8V604.3H1639.2zM1648.8 593.2H1658.4V598.7H1648.8zM1658.4 593.2H1668V598.7H1658.4zM1668 587.6H1677.6V593.2H1668zM1677.6 587.6H1687.2V593.2H1677.6zM1687.2 587.6H1696.8V593.2H1687.2zM1696.8 587.6H1706.5V593.2H1696.8zM1706.5 587.6H1716.1V593.2H1706.5zM1716.1 582.1H1725.7V587.6H1716.1zM1725.7 470.9H1735.3V476.5H1725.7zM1725.7 582.1H1735.3V587.6H1725.7zM1735.3 470.9H1744.9V476.5H1735.3zM1735.3 582.1H1744.9V587.6H1735.3zM1744.9 470.9H1754.5V476.5H1744.9zM1744.9 582.1H1754.5V587.6H1744.9z"/>
<path fill="#ffd2d2" d="M245.7 743.2H255.3V754.3H245.7zM245.7 887.6H255.3V893.2H245.7zM255.3 743.2H265V759.8H255.3zM255.3 887.6H265V893.2H255.3zM265 754.3H274.6V759.8H265zM265 887.6H274.6V893.2H265zM274.6 754.3H284.2V759.8H274.6zM284.2 754.3H293.8V759.8H284.2zM293.8 732.1H303.4V759.8H293.8zM303.4 743.2H313V754.3H303.4zM322.6 732.1H332.2V743.2H322.6zM332.2 732.1H341.8V743.2H332.2zM341.8 732.1H351.4V743.2H341.8zM351.4 732.1H361.1V737.6H351.4zM361.1 720.9H370.7V726.5H361.1zM370.7 709.8H380.3V720.9H370.7zM380.3 709.8H389.9V720.9H380.3zM389.9 709.8H399.5V720.9H389.9zM399.5 720.9H409.1V726.5H399.5z"/>
<path fill="#ffd969" d="M610.9 820.9H620.5V826.5H610.9zM639.7 826.5H649.4V832.1H639.7zM687.8 809.8H697.4V815.4H687.8zM745.5 798.7H755.1V804.3H745.5zM908.8 776.5H918.4V782.1H908.8zM947.3 765.4H956.9V770.9H947.3zM985.7 754.3H995.3V759.8H985.7zM1004.9 726.5H1014.5V732.1H1004.9zM1033.8 737.6H1043.4V743.2H1033.8zM1043.4 715.4H1053V720.9H1043.4zM1129.9 693.2H1139.5V698.7H1129.9zM1129.9 704.3H1139.5V709.8H1129.9zM1139.5 693.2H1149.1V698.7H1139.5zM1149.1 698.7H1158.7V704.3H1149.1zM1158.7 693.2H1168.3V698.7H1158.7zM1177.9 687.6H1187.5V693.2H1177.9zM1187.5 676.5H1197.1V682.1H1187.5zM1197.1 676.5H1206.7V682.1H1197.1zM1206.7 676.5H1216.3V682.1H1206.7z"/>
<path fill="#ffe5e5" d="M409.1 726.5H418.7V737.6H409.1zM418.7 720.9H428.3V737.6H418.7zM428.3 726.5H437.9V743.2H428.3zM437.9 726.5H447.5V743.2H437.9zM447.5 726.5H457.2V748.7H447.5zM457.2 726.5H466.8V748.7H457.2zM466.8 726.5H476.4V748.7H466.8zM476.4 726.5H486V754.3H476.4zM486 726.5H495.6V754.3H486zM495.6 726.5H505.2V754.3H495.6zM505.2 726.5H514.8V759.8H505.2zM514.8 726.5H524.4V765.4H514.8zM524.4 726.5H534V770.9H524.4zM534 726.5H543.6V776.5H534zM534 854.3H543.6V859.8H534zM543.6 726.5H553.3V776.5H543.6zM553.3 726.5H562.9V782.1H553.3zM562.9 726.5H572.5V782.1H562.9zM572.5 726.5H582.1V787.6H572.5zM582.1 726.5H591.7V787.6H582.1zM582.1 843.2H591.7V848.7H582.1zM591.7 726.5H601.3V793.2H591.7zM601.3 726.5H610.9V793.2H601.3zM610.9 732.1H620.5V798.7H610.9zM620.5 732.1H630.1V798.7H620.5zM630.1 732.1H639.7V798.7H630.1zM639.7 737.6H649.4V798.7H639.7zM649.4 748.7H659V798.7H649.4zM659 759.8H668.6V804.3H659zM668.6 782.1H678.2V804.3H668.6zM678.2 793.2H687.8V804.3H678.2zM687.8 804.3H697.4V809.8H687.8z"/>
<path fill="#ffe96c" d="M620.5 820.9H630.1V826.5H620.5zM649.4 826.5H659V832.1H649.4zM793.5 787.6H803.1V793.2H793.5zM851.2 787.6H860.8V793.2H851.2zM966.5 737.6H976.1V743.2H966.5zM995.3 748.7H1004.9V754.3H995.3zM1014.5 743.2H1024.1V748.7H1014.5zM1043.4 732.1H1053V737.6H1043.4zM1072.2 720.9H1081.8V726.5H1072.2zM1091.4 704.3H1101V709.8H1091.4zM1101 704.3H1110.6V709.8H1101zM1101 715.4H1110.6V720.9H1101zM1120.2 704.3H1129.9V709.8H1120.2zM1139.5 698.7H1149.1V704.3H1139.5zM1149.1 693.2H1158.7V698.7H1149.1zM1158.7 687.6H1168.3V693.2H1158.7zM1168.3 687.6H1177.9V693.2H1168.3z"/>
</g>
<g fill="none" stroke-linejoin="miter" stroke-miterlimit="10">
<path stroke="#b00000" stroke-width="7.6" d="M250.5 550.3C255.4 547.6 271.8 538.2 280 534C288.2 529.8 293.3 527.5 300 524.8C306.7 522.1 313.3 519.7 320 518C326.7 516.3 333.3 515.8 340 514.8C346.7 513.8 353.7 512.5 360 512C366.3 511.5 372.7 511.3 378 512C383.3 512.7 387 514.1 392 516C397 517.9 402.7 520.2 408 523.2C413.3 526.2 418.7 530.2 424 534C429.3 537.8 434.7 542.2 440 546C445.3 549.8 451 553.7 456 556.8C461 559.9 465.3 562.9 470 564.8C474.7 566.7 479 567.5 484 568.4C489 569.3 494.7 569.5 500 570.4C505.3 571.3 510.7 572.3 516 574C521.3 575.7 526 578.1 532 580.8C538 583.5 545.3 587.3 552 590C558.7 592.7 566 595 572 597.2C578 599.4 583 600.9 588 603.2C593 605.5 597.3 607.3 602 610.8C606.7 614.3 611.3 619.3 616 624C620.7 628.7 625.3 633.8 630 638.8C634.7 643.8 639.3 649.3 644 654C648.7 658.7 653.3 663.4 658 667.2C662.7 671 667 674 672 676.8C677 679.6 682.7 682 688 684C693.3 686 699 687.6 704 688.8C709 690 713.3 690.8 718 691.2C722.7 691.6 727 691.7 732 691.2C737 690.7 742 689.2 748 688C754 686.8 760.7 685.5 768 684C775.3 682.5 783.3 680.7 792 678.8C800.7 676.9 812 674.9 820 672.8C828 670.7 832.7 668.9 840 666.4C847.3 663.9 856 660.9 864 658C872 655.1 878.7 652.2 888 649.2C897.3 646.2 909.3 643.1 920 640C930.7 636.9 942 633.8 952 630.8C962 627.8 972 624.5 980 622C988 619.5 990 618.9 1000 616C1010 613.1 1026.7 608.7 1040 604.8C1053.3 600.9 1066.7 596.9 1080 592.8C1093.3 588.7 1106.7 584.3 1120 580C1133.3 575.7 1146.7 571.3 1160 566.8C1173.3 562.3 1186.7 557.7 1200 553.2C1213.3 548.7 1226.7 544.1 1240 540C1253.3 535.9 1266.7 532.8 1280 528.8C1293.3 524.8 1306.7 520.3 1320 516C1333.3 511.7 1346.7 507 1360 502.8C1373.3 498.6 1386.7 494.8 1400 490.8C1413.3 486.8 1426.7 482.9 1440 478.8C1453.3 474.7 1466.7 470.6 1480 466C1493.3 461.4 1506.7 456.2 1520 451.2C1533.3 446.2 1546.7 441.2 1560 436C1573.3 430.8 1586.7 425.2 1600 420C1613.3 414.8 1626.7 409.8 1640 404.8C1653.3 399.8 1666.7 395 1680 390C1693.3 385 1708.2 379.3 1720 374.8C1731.8 370.3 1745.4 365 1750.5 363"/>
<path stroke="#b00000" stroke-width="7.6" d="M250.5 1021C255.4 1021.5 270.4 1023.3 280 1024C289.6 1024.7 298 1025.4 308 1025.2C318 1025 329.3 1023.5 340 1022.8C350.7 1022.1 362 1021.3 372 1021.2C382 1021.1 390.7 1021.5 400 1022C409.3 1022.5 419.3 1024 428 1024.4C436.7 1024.8 443.3 1024.7 452 1024.4C460.7 1024.1 468.7 1023.1 480 1022.4C491.3 1021.7 508.7 1021.2 520 1020C531.3 1018.8 539.3 1016.6 548 1015.2C556.7 1013.8 563.3 1012.3 572 1011.6C580.7 1010.9 588.7 1011 600 1010.8C611.3 1010.6 626.7 1010.9 640 1010.4C653.3 1009.9 666.7 1008.5 680 1008C693.3 1007.5 706.7 1007.9 720 1007.6C733.3 1007.3 748 1007 760 1006C772 1005 778.7 1003.1 792 1001.6C805.3 1000.1 825.3 998.6 840 997.2C854.7 995.8 866.7 994.7 880 993.2C893.3 991.7 906.7 989.7 920 988C933.3 986.3 946.7 984.6 960 982.8C973.3 981 986.7 979.5 1000 977.2C1013.3 974.9 1028 971.1 1040 968.8C1052 966.5 1062 965.3 1072 963.2C1082 961.1 1090 957.9 1100 956C1110 954.1 1122 953 1132 952C1142 951 1150 951.5 1160 950C1170 948.5 1181.3 945.7 1192 943.2C1202.7 940.7 1213.3 938 1224 935.2C1234.7 932.4 1245.3 929.4 1256 926.4C1266.7 923.4 1277.3 920.3 1288 917.2C1298.7 914.1 1308 911.5 1320 908C1332 904.5 1346.7 900.1 1360 896C1373.3 891.9 1386.7 887.4 1400 883.2C1413.3 879 1426.7 875 1440 870.8C1453.3 866.6 1466.7 862.3 1480 858C1493.3 853.7 1506.7 849.3 1520 844.8C1533.3 840.3 1546.7 835.4 1560 830.8C1573.3 826.2 1586.7 821.8 1600 817.2C1613.3 812.6 1626.7 807.7 1640 803.2C1653.3 798.7 1666.7 794.4 1680 790C1693.3 785.6 1708.2 780.7 1720 776.8C1731.8 772.9 1745.4 768.2 1750.5 766.5"/>
<polyline stroke="#fff" stroke-width="3.9" points="250.5,790 252.7,791.5 256,800 258.5,824 261.1,875.6 262.5,879.5 265,879.5 269,864 273.2,857 276,857 279.5,861 283.7,857 294.2,856.5 297.4,834.6 300.5,803 303.7,784 306.9,803 311.1,824 315.3,841 320.5,862 322.6,824 324.2,802 326.3,824 328.9,857 332.1,857 336.3,834.6 340.5,803 343.1,781 348.9,779 354.1,768.3 364.7,768.3 369.4,757 372.5,768.3 375.7,757.2 388.8,757.2 392,792.5 394.6,824 396.4,850 398,824 399.6,757.2 401.5,757.2 403.5,824 405.6,855.6 409.8,867.5 422,867.5 426,857 431,863 435,857 470,857 474,846 478,857 484,857 488,846 493,857 500,846 503,854 507,846 548,845.9 554,834.8 570,834.8 573.6,823.7 578,834.8 581,834.8 585,823.7 589,834.8 594,823.7 670.2,823.7 673.4,812.6 677,823.7 698,823.7 704,812.6 755.6,812.6 762,801.5 799.6,801.5 806,790.4 841,790.4 846,779.3 879,779.3 885,768.2 920,768.2 928,757.1 959,757.1 967,745.9 998,745.9 1004.5,734.8 1036,734.8 1042,723.7 1072,723.7 1077,712.6 1112,712.6 1116,701.5 1152,701.5 1156,690.4 1188,690.4 1192,679.3 1226,679.3 1231,668.2 1268,668.2 1272,657.1 1302,657.1 1304,645.9 1307,657.1 1314,645.9 1334,645.9 1342,634.8 1382,634.8 1387,623.7 1407,623.7 1420,612.6 1442,612.6 1457,601.5 1487,601.5 1504,590.4 1522,590.4 1548,578 1574,567 1604,567 1638,544 1676,536 1716,530 1750.5,525"/>
<polyline stroke="#000" stroke-width="3.9" points="250.5,740.4 266,740.4 269.4,751.5 295.6,751.5 303.6,684.8 308,740.4 315,740.4 319,751.5 322.4,751.5 326,729.3 358,729.3 361.6,718.2 369.6,718.2 373.6,707.1 400,707.1 404.6,718.2 408,718.2 411.6,729.3 415,718.2 439,718.2 445.4,695.9 450,707.1 454,695.9 485,695.9 488,684.8 508,684.8 511.6,673.7 520,673.7 523.6,662.6 526.6,673.7 530.4,662.6 546,662.6 549.6,651.5 554,662.6 557.4,651.5 562.4,651.5 565,662.6 589,662.6 592.4,673.7 596,673.7 599.6,662.6 604.6,673.7 608,673.7 611.6,684.8 615,684.8 619,695.9 627,695.9 630.5,707.1 636,707.1 639,718.2 647,718.2 651,729.3 655,740.4 659,740.4 662,751.5 665,762.6 674,762.6 676,773.7 678.4,784.8 682,784.8 685,795.9 693.6,795.9 696.4,807.1 757,807.1 761.6,795.9 785.2,795.9 788,751.5 790.8,795.9 798,795.9 802,784.8 838,784.8 842,773.7 872,773.7 876,762.6 907,762.6 911,751.5 943,751.5 947,740.4 981,740.4 985,729.3 1010.6,729.3 1015,718.2 1047,718.2 1051,707.1 1073,707.1 1076.2,695.9 1080.4,707.1 1085,695.9 1107,695.9 1111,684.8 1142,684.8 1146,673.7 1154,673.7 1157.2,662.6 1162,673.7 1168.4,662.6 1173,673.7 1176.4,662.6 1180.6,673.7 1184,662.6 1191,662.6 1194,651.5 1200,651.5 1204,662.6 1208,651.5 1234,651.5 1238,640.4 1269,640.4 1273,629.3 1303,629.3 1307,618.2 1342,618.2 1346,607.1 1382,607.1 1387,595.9 1419,595.9 1430,584.8 1457,584.8 1472,573.7 1488,573.7 1504,562.6 1524,562.6 1556,548 1596,530.4 1636,518 1686,507 1716,498 1750.5,487"/>
<polyline stroke="#000" stroke-width="3.9" points="250.5,895.9 273.6,895.9 277,884.8 335,884.8 338,873.7 341,884.8 350,884.8 353.6,873.7 357,884.8 362,873.7 389,873.7 392.4,862.6 395.6,873.7 445.6,873.7 449.4,862.6 453,873.7 466,873.7 470,862.6 473,862.6 476.4,873.7 480,862.6 527,862.6 530,851.5 535,851.5 538,862.6 542,851.5 569.4,851.5 573,840.4 576.4,851.5 589,851.5 593,840.4 670,840.4 673,829.3 676,840.4 689,840.4 693,829.3 751,829.3 755,818.2 785.7,818.2 788.6,784.8 791.5,818.2 801,818.2 805,807.1 851,807.1 855,795.9 899,795.9 904,784.8 945.5,784.8 950,773.7 992,773.7 995.7,762.6 1000,773.7 1004.5,762.6 1038.4,762.6 1042.4,751.5 1046,762.6 1050.8,751.5 1092.3,751.5 1095.4,740.4 1099.2,751.5 1104,751.5 1108,740.4 1139,740.4 1143,729.3 1145.8,740.4 1152,729.3 1157.6,740.4 1163,729.3 1169,740.4 1174,729.3 1189,729.3 1192.4,718.2 1196,729.3 1203.6,718.2 1207,729.3 1220,729.3 1226.4,707.1 1229.6,718.2 1255,718.2 1261,707.1 1294,707.1 1300,695.9 1326,695.9 1334,684.8 1362,684.8 1374,673.7 1408,673.7 1420,662.6 1443,662.6 1457,651.5 1473,651.5 1488,640.4 1504,640.4 1523,629.3 1547,629.3 1576,616 1606,605 1636,595 1686,584 1716,574 1750.5,564"/>
<polygon fill="#000" stroke="none" points="786.1,750.5 791.1,750.5 793.3,797 783.2,797"/>
</g>
<g shape-rendering="crispEdges" fill="#000">
<rect x="248" y="199" width="5" height="1005"/>
<rect x="1748" y="199" width="5" height="1005"/>
<rect x="248" y="199" width="1505" height="5"/>
<rect x="248" y="1199" width="1505" height="5"/>
<rect x="230" y="1200" width="20" height="3"/>
<rect x="1751" y="1200" width="20" height="3"/>
<rect x="230" y="1089" width="20" height="3"/>
<rect x="1751" y="1089" width="20" height="3"/>
<rect x="230" y="978" width="20" height="3"/>
<rect x="1751" y="978" width="20" height="3"/>
<rect x="230" y="867" width="20" height="3"/>
<rect x="1751" y="867" width="20" height="3"/>
<rect x="230" y="756" width="20" height="3"/>
<rect x="1751" y="756" width="20" height="3"/>
<rect x="230" y="644" width="20" height="3"/>
<rect x="1751" y="644" width="20" height="3"/>
<rect x="230" y="533" width="20" height="3"/>
<rect x="1751" y="533" width="20" height="3"/>
<rect x="230" y="422" width="20" height="3"/>
<rect x="1751" y="422" width="20" height="3"/>
<rect x="230" y="311" width="20" height="3"/>
<rect x="1751" y="311" width="20" height="3"/>
<rect x="230" y="200" width="20" height="3"/>
<rect x="1751" y="200" width="20" height="3"/>
<rect x="287" y="189" width="3" height="12"/>
<rect x="287" y="1202" width="3" height="12"/>
<rect x="318" y="189" width="3" height="12"/>
<rect x="318" y="1202" width="3" height="12"/>
<rect x="343" y="189" width="3" height="12"/>
<rect x="343" y="1202" width="3" height="12"/>
<rect x="366" y="189" width="3" height="12"/>
<rect x="366" y="1202" width="3" height="12"/>
<rect x="385" y="189" width="3" height="12"/>
<rect x="385" y="1202" width="3" height="12"/>
<rect x="403" y="166" width="3" height="35"/>
<rect x="403" y="1202" width="3" height="23"/>
<rect x="519" y="189" width="3" height="12"/>
<rect x="519" y="1202" width="3" height="12"/>
<rect x="586" y="189" width="3" height="12"/>
<rect x="586" y="1202" width="3" height="12"/>
<rect x="634" y="189" width="3" height="12"/>
<rect x="634" y="1202" width="3" height="12"/>
<rect x="671" y="189" width="3" height="12"/>
<rect x="671" y="1202" width="3" height="12"/>
<rect x="702" y="189" width="3" height="12"/>
<rect x="702" y="1202" width="3" height="12"/>
<rect x="728" y="189" width="3" height="12"/>
<rect x="728" y="1202" width="3" height="12"/>
<rect x="750" y="189" width="3" height="12"/>
<rect x="750" y="1202" width="3" height="12"/>
<rect x="770" y="189" width="3" height="12"/>
<rect x="770" y="1202" width="3" height="12"/>
<rect x="787" y="166" width="3" height="35"/>
<rect x="787" y="1202" width="3" height="23"/>
<rect x="903" y="189" width="3" height="12"/>
<rect x="903" y="1202" width="3" height="12"/>
<rect x="971" y="189" width="3" height="12"/>
<rect x="971" y="1202" width="3" height="12"/>
<rect x="1019" y="189" width="3" height="12"/>
<rect x="1019" y="1202" width="3" height="12"/>
<rect x="1056" y="189" width="3" height="12"/>
<rect x="1056" y="1202" width="3" height="12"/>
<rect x="1086" y="189" width="3" height="12"/>
<rect x="1086" y="1202" width="3" height="12"/>
<rect x="1112" y="189" width="3" height="12"/>
<rect x="1112" y="1202" width="3" height="12"/>
<rect x="1134" y="189" width="3" height="12"/>
<rect x="1134" y="1202" width="3" height="12"/>
<rect x="1154" y="189" width="3" height="12"/>
<rect x="1154" y="1202" width="3" height="12"/>
<rect x="1172" y="166" width="3" height="35"/>
<rect x="1172" y="1202" width="3" height="23"/>
<rect x="1287" y="189" width="3" height="12"/>
<rect x="1287" y="1202" width="3" height="12"/>
<rect x="1355" y="189" width="3" height="12"/>
<rect x="1355" y="1202" width="3" height="12"/>
<rect x="1403" y="189" width="3" height="12"/>
<rect x="1403" y="1202" width="3" height="12"/>
<rect x="1440" y="189" width="3" height="12"/>
<rect x="1440" y="1202" width="3" height="12"/>
<rect x="1471" y="189" width="3" height="12"/>
<rect x="1471" y="1202" width="3" height="12"/>
<rect x="1496" y="189" width="3" height="12"/>
<rect x="1496" y="1202" width="3" height="12"/>
<rect x="1519" y="189" width="3" height="12"/>
<rect x="1519" y="1202" width="3" height="12"/>
<rect x="1538" y="189" width="3" height="12"/>
<rect x="1538" y="1202" width="3" height="12"/>
<rect x="1556" y="166" width="3" height="35"/>
<rect x="1556" y="1202" width="3" height="23"/>
<rect x="1672" y="189" width="3" height="12"/>
<rect x="1672" y="1202" width="3" height="12"/>
<rect x="1739" y="189" width="3" height="12"/>
<rect x="1739" y="1202" width="3" height="12"/>
</g>
<g shape-rendering="crispEdges">
<rect x="1325.5" y="1014.5" width="375" height="24.5" fill="url(#cb)"/>
<rect x="1325.5" y="1014.5" width="375" height="24.5" fill="none" stroke="#000" stroke-width="5"/>
<rect x="1324" y="1039" width="3" height="20" fill="#000"/>
<rect x="1371" y="1039" width="3" height="10" fill="#000"/>
<rect x="1418" y="1039" width="3" height="20" fill="#000"/>
<rect x="1465" y="1039" width="3" height="10" fill="#000"/>
<rect x="1512" y="1039" width="3" height="20" fill="#000"/>
<rect x="1558" y="1039" width="3" height="10" fill="#000"/>
<rect x="1605" y="1039" width="3" height="20" fill="#000"/>
<rect x="1652" y="1039" width="3" height="10" fill="#000"/>
<rect x="1699" y="1039" width="3" height="20" fill="#000"/>
</g>
<text x="999.5" y="94" font-size="41.8" text-anchor="middle">AMF ENE (7699)</text>
<text x="1019.5" y="1332" font-size="41.67" text-anchor="middle">Period (s)</text>
<text transform="translate(96,701.5) rotate(-90)" font-size="38" text-anchor="middle">Power (db)</text>
<text x="210" y="1215.7" font-size="38" text-anchor="end">–140</text>
<text x="210" y="1104.6" font-size="38" text-anchor="end">–130</text>
<text x="210" y="993.5" font-size="38" text-anchor="end">–120</text>
<text x="210" y="882.4" font-size="38" text-anchor="end">–110</text>
<text x="210" y="771.3" font-size="38" text-anchor="end">–100</text>
<text x="210" y="660.1" font-size="38" text-anchor="end">–90</text>
<text x="210" y="549" font-size="38" text-anchor="end">–80</text>
<text x="210" y="437.9" font-size="38" text-anchor="end">–70</text>
<text x="210" y="326.8" font-size="38" text-anchor="end">–60</text>
<text x="210" y="215.7" font-size="38" text-anchor="end">–50</text>
<text x="404.3" y="1261" font-size="41.67" text-anchor="middle">0.1</text>
<text x="788.7" y="1261" font-size="41.67" text-anchor="middle">1</text>
<text x="1173.1" y="1261" font-size="41.67" text-anchor="middle">10</text>
<text x="1557.5" y="1261" font-size="41.67" text-anchor="middle">100</text>
<text x="1325.5" y="1107.4" font-size="37.5" text-anchor="middle">0.0</text>
<text x="1419.2" y="1107.4" font-size="37.5" text-anchor="middle">0.2</text>
<text x="1513" y="1107.4" font-size="37.5" text-anchor="middle">0.4</text>
<text x="1606.8" y="1107.4" font-size="37.5" text-anchor="middle">0.6</text>
<text x="1700.5" y="1107.4" font-size="37.5" text-anchor="middle">0.8</text>
<text x="1513" y="1162" font-size="38.6" text-anchor="middle">Probability</text>
</svg></body></html>
